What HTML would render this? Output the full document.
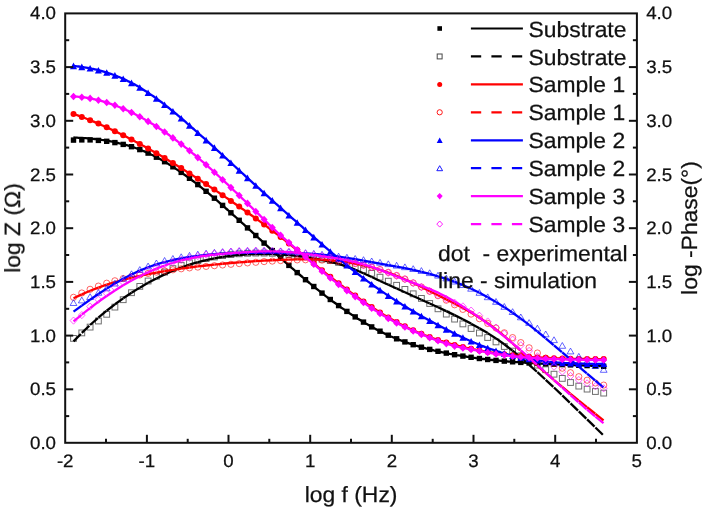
<!DOCTYPE html>
<html><head><meta charset="utf-8"><style>
html,body{margin:0;padding:0;background:#fff;}
body{width:706px;height:512px;overflow:hidden;font-family:"Liberation Sans",sans-serif;}
svg{display:block;-webkit-font-smoothing:antialiased;}
text{text-rendering:geometricPrecision;}
#tx{opacity:0.999;}
</style></head><body>
<svg width="706" height="512" viewBox="0 0 706 512" font-family="Liberation Sans, sans-serif" fill="#111">
<style>text{stroke:#111;stroke-width:0.25px;}</style>
<rect width="706" height="512" fill="#fff"/>
<g id="lines"><rect x="70.8" y="137.4" width="5.4" height="5.4" fill="#000"/>
<rect x="79.1" y="137.2" width="5.4" height="5.4" fill="#000"/>
<rect x="87.4" y="137.2" width="5.4" height="5.4" fill="#000"/>
<rect x="95.7" y="137.7" width="5.4" height="5.4" fill="#000"/>
<rect x="104.0" y="138.6" width="5.4" height="5.4" fill="#000"/>
<rect x="112.2" y="139.9" width="5.4" height="5.4" fill="#000"/>
<rect x="120.5" y="141.7" width="5.4" height="5.4" fill="#000"/>
<rect x="128.8" y="144.0" width="5.4" height="5.4" fill="#000"/>
<rect x="137.1" y="146.9" width="5.4" height="5.4" fill="#000"/>
<rect x="145.4" y="150.4" width="5.4" height="5.4" fill="#000"/>
<rect x="153.7" y="154.5" width="5.4" height="5.4" fill="#000"/>
<rect x="161.9" y="159.0" width="5.4" height="5.4" fill="#000"/>
<rect x="170.2" y="164.1" width="5.4" height="5.4" fill="#000"/>
<rect x="178.5" y="169.7" width="5.4" height="5.4" fill="#000"/>
<rect x="186.8" y="175.6" width="5.4" height="5.4" fill="#000"/>
<rect x="195.1" y="181.9" width="5.4" height="5.4" fill="#000"/>
<rect x="203.4" y="188.6" width="5.4" height="5.4" fill="#000"/>
<rect x="211.7" y="195.5" width="5.4" height="5.4" fill="#000"/>
<rect x="219.9" y="202.7" width="5.4" height="5.4" fill="#000"/>
<rect x="228.2" y="210.1" width="5.4" height="5.4" fill="#000"/>
<rect x="236.5" y="217.6" width="5.4" height="5.4" fill="#000"/>
<rect x="244.8" y="225.2" width="5.4" height="5.4" fill="#000"/>
<rect x="253.1" y="232.8" width="5.4" height="5.4" fill="#000"/>
<rect x="261.4" y="240.4" width="5.4" height="5.4" fill="#000"/>
<rect x="269.6" y="247.9" width="5.4" height="5.4" fill="#000"/>
<rect x="277.9" y="255.4" width="5.4" height="5.4" fill="#000"/>
<rect x="286.2" y="262.7" width="5.4" height="5.4" fill="#000"/>
<rect x="294.5" y="269.9" width="5.4" height="5.4" fill="#000"/>
<rect x="302.8" y="277.0" width="5.4" height="5.4" fill="#000"/>
<rect x="311.1" y="283.8" width="5.4" height="5.4" fill="#000"/>
<rect x="319.3" y="290.4" width="5.4" height="5.4" fill="#000"/>
<rect x="327.6" y="296.8" width="5.4" height="5.4" fill="#000"/>
<rect x="335.9" y="302.9" width="5.4" height="5.4" fill="#000"/>
<rect x="344.2" y="308.7" width="5.4" height="5.4" fill="#000"/>
<rect x="352.5" y="314.2" width="5.4" height="5.4" fill="#000"/>
<rect x="360.8" y="319.4" width="5.4" height="5.4" fill="#000"/>
<rect x="369.0" y="324.2" width="5.4" height="5.4" fill="#000"/>
<rect x="377.3" y="328.5" width="5.4" height="5.4" fill="#000"/>
<rect x="385.6" y="332.5" width="5.4" height="5.4" fill="#000"/>
<rect x="393.9" y="336.1" width="5.4" height="5.4" fill="#000"/>
<rect x="402.2" y="339.2" width="5.4" height="5.4" fill="#000"/>
<rect x="410.5" y="342.0" width="5.4" height="5.4" fill="#000"/>
<rect x="418.7" y="344.5" width="5.4" height="5.4" fill="#000"/>
<rect x="427.0" y="346.7" width="5.4" height="5.4" fill="#000"/>
<rect x="435.3" y="348.6" width="5.4" height="5.4" fill="#000"/>
<rect x="443.6" y="350.4" width="5.4" height="5.4" fill="#000"/>
<rect x="451.9" y="352.0" width="5.4" height="5.4" fill="#000"/>
<rect x="460.2" y="353.4" width="5.4" height="5.4" fill="#000"/>
<rect x="468.4" y="354.6" width="5.4" height="5.4" fill="#000"/>
<rect x="476.7" y="355.8" width="5.4" height="5.4" fill="#000"/>
<rect x="485.0" y="356.8" width="5.4" height="5.4" fill="#000"/>
<rect x="493.3" y="357.7" width="5.4" height="5.4" fill="#000"/>
<rect x="501.6" y="358.4" width="5.4" height="5.4" fill="#000"/>
<rect x="509.9" y="359.1" width="5.4" height="5.4" fill="#000"/>
<rect x="518.1" y="359.7" width="5.4" height="5.4" fill="#000"/>
<rect x="526.4" y="360.3" width="5.4" height="5.4" fill="#000"/>
<rect x="534.7" y="360.7" width="5.4" height="5.4" fill="#000"/>
<rect x="543.0" y="361.2" width="5.4" height="5.4" fill="#000"/>
<rect x="551.3" y="361.5" width="5.4" height="5.4" fill="#000"/>
<rect x="559.6" y="361.9" width="5.4" height="5.4" fill="#000"/>
<rect x="567.8" y="362.2" width="5.4" height="5.4" fill="#000"/>
<rect x="576.1" y="362.6" width="5.4" height="5.4" fill="#000"/>
<rect x="584.4" y="362.9" width="5.4" height="5.4" fill="#000"/>
<rect x="592.7" y="363.2" width="5.4" height="5.4" fill="#000"/>
<rect x="601.0" y="363.6" width="5.4" height="5.4" fill="#000"/>
<path d="M73.4,137.5L75.1,137.6L76.9,137.7L78.7,137.8L80.5,137.9L82.2,138.0L84.0,138.1L85.8,138.2L87.6,138.3L89.3,138.5L91.1,138.6L92.9,138.8L94.7,139.0L96.4,139.2L98.2,139.4L100.0,139.6L101.8,139.9L103.5,140.1L105.3,140.4L107.1,140.7L108.9,141.0L110.6,141.3L112.4,141.7L114.2,142.1L116.0,142.4L117.7,142.8L119.5,143.3L121.3,143.7L123.1,144.2L124.8,144.6L126.6,145.1L128.4,145.7L130.2,146.2L131.9,146.8L133.7,147.4L135.5,148.0L137.3,148.6L139.0,149.3L140.8,150.0L142.6,150.7L144.4,151.4L146.1,152.2L147.9,153.0L149.7,153.8L151.5,154.7L153.3,155.5L155.0,156.4L156.8,157.4L158.6,158.3L160.4,159.3L162.1,160.3L163.9,161.3L165.7,162.3L167.5,163.4L169.2,164.5L171.0,165.6L172.8,166.7L174.6,167.9L176.3,169.1L178.1,170.3L179.9,171.5L181.7,172.7L183.4,174.0L185.2,175.2L187.0,176.5L188.8,177.8L190.5,179.1L192.3,180.5L194.1,181.8L195.9,183.2L197.6,184.6L199.4,186.0L201.2,187.4L203.0,188.8L204.7,190.3L206.5,191.7L208.3,193.2L210.1,194.7L211.8,196.2L213.6,197.7L215.4,199.2L217.2,200.7L218.9,202.2L220.7,203.8L222.5,205.3L224.3,206.9L226.0,208.5L227.8,210.0L229.6,211.6L231.4,213.2L233.1,214.8L234.9,216.4L236.7,218.0L238.5,219.6L240.2,221.2L242.0,222.8L243.8,224.4L245.6,226.1L247.3,227.7L249.1,229.3L250.9,230.9L252.7,232.6L254.4,234.2L256.2,235.8L258.0,237.5L259.8,239.1L261.5,240.7L263.3,242.3L265.1,244.0L266.9,245.6L268.6,247.2L270.4,248.8L272.2,250.4L274.0,252.0L275.7,253.6L277.5,255.2L279.3,256.8L281.1,258.4L282.8,260.0L284.6,261.6L286.4,263.2L288.2,264.7L289.9,266.3L291.7,267.9L293.5,269.4L295.3,271.0L297.0,272.5L298.8,274.0L300.6,275.5L302.4,277.0L304.1,278.5L305.9,280.0L307.7,281.5L309.5,283.0L311.2,284.5L313.0,285.9L314.8,287.4L316.6,288.8L318.3,290.2L320.1,291.6L321.9,293.0L323.7,294.4L325.4,295.8L327.2,297.2L329.0,298.5L330.8,299.9L332.5,301.2L334.3,302.5L336.1,303.8L337.9,305.1L339.6,306.4L341.4,307.7L343.2,308.9L345.0,310.1L346.7,311.4L348.5,312.6L350.3,313.8L352.1,314.9L353.9,316.1L355.6,317.2L357.4,318.4L359.2,319.5L361.0,320.6L362.7,321.7L364.5,322.7L366.3,323.8L368.1,324.8L369.8,325.8L371.6,326.8L373.4,327.8L375.2,328.7L376.9,329.7L378.7,330.6L380.5,331.5L382.3,332.4L384.0,333.2L385.8,334.1L387.6,334.9L389.4,335.7L391.1,336.5L392.9,337.2L394.7,338.0L396.5,338.7L398.2,339.4L400.0,340.1L401.8,340.8L403.6,341.4L405.3,342.1L407.1,342.7L408.9,343.3L410.7,343.9L412.4,344.5L414.2,345.0L416.0,345.6L417.8,346.1L419.5,346.6L421.3,347.1L423.1,347.6L424.9,348.1L426.6,348.6L428.4,349.0L430.2,349.5L432.0,349.9L433.7,350.4L435.5,350.8L437.3,351.2L439.1,351.6L440.8,352.0L442.6,352.3L444.4,352.7L446.2,353.1L447.9,353.4L449.7,353.8L451.5,354.1L453.3,354.4L455.0,354.7L456.8,355.1L458.6,355.4L460.4,355.7L462.1,356.0L463.9,356.2L465.7,356.5L467.5,356.8L469.2,357.1L471.0,357.3L472.8,357.6L474.6,357.8L476.3,358.1L478.1,358.3L479.9,358.5L481.7,358.8L483.4,359.0L485.2,359.2L487.0,359.4L488.8,359.6L490.5,359.8L492.3,360.0L494.1,360.2L495.9,360.4L497.6,360.5L499.4,360.7L501.2,360.9L503.0,361.0L504.7,361.2L506.5,361.3L508.3,361.5L510.1,361.6L511.8,361.8L513.6,361.9L515.4,362.1L517.2,362.2L518.9,362.3L520.7,362.4L522.5,362.6L524.3,362.7L526.0,362.8L527.8,362.9L529.6,363.0L531.4,363.1L533.1,363.2L534.9,363.3L536.7,363.4L538.5,363.5L540.2,363.6L542.0,363.7L543.8,363.8L545.6,363.9L547.3,364.0L549.1,364.0L550.9,364.1L552.7,364.2L554.4,364.3L556.2,364.4L558.0,364.4L559.8,364.5L561.6,364.6L563.3,364.6L565.1,364.7L566.9,364.8L568.7,364.9L570.4,364.9L572.2,365.0L574.0,365.1L575.8,365.1L577.5,365.2L579.3,365.3L581.1,365.4L582.9,365.4L584.6,365.5L586.4,365.6L588.2,365.6L590.0,365.7L591.7,365.8L593.5,365.9L595.3,365.9L597.1,366.0L598.8,366.1L600.6,366.2L602.4,366.2L604.2,366.3" fill="none" stroke="#000" stroke-width="2.3" stroke-linejoin="round"/>
<rect x="70.6" y="335.5" width="5.8" height="5.8" fill="none" stroke="#222" stroke-width="1" stroke-opacity="0.65"/>
<rect x="78.9" y="330.0" width="5.8" height="5.8" fill="none" stroke="#222" stroke-width="1" stroke-opacity="0.65"/>
<rect x="87.2" y="324.2" width="5.8" height="5.8" fill="none" stroke="#222" stroke-width="1" stroke-opacity="0.65"/>
<rect x="95.5" y="318.1" width="5.8" height="5.8" fill="none" stroke="#222" stroke-width="1" stroke-opacity="0.65"/>
<rect x="103.8" y="311.4" width="5.8" height="5.8" fill="none" stroke="#222" stroke-width="1" stroke-opacity="0.65"/>
<rect x="112.0" y="304.2" width="5.8" height="5.8" fill="none" stroke="#222" stroke-width="1" stroke-opacity="0.65"/>
<rect x="120.3" y="296.8" width="5.8" height="5.8" fill="none" stroke="#222" stroke-width="1" stroke-opacity="0.65"/>
<rect x="128.6" y="289.8" width="5.8" height="5.8" fill="none" stroke="#222" stroke-width="1" stroke-opacity="0.65"/>
<rect x="136.9" y="283.5" width="5.8" height="5.8" fill="none" stroke="#222" stroke-width="1" stroke-opacity="0.65"/>
<rect x="145.2" y="278.1" width="5.8" height="5.8" fill="none" stroke="#222" stroke-width="1" stroke-opacity="0.65"/>
<rect x="153.5" y="273.3" width="5.8" height="5.8" fill="none" stroke="#222" stroke-width="1" stroke-opacity="0.65"/>
<rect x="161.7" y="269.2" width="5.8" height="5.8" fill="none" stroke="#222" stroke-width="1" stroke-opacity="0.65"/>
<rect x="170.0" y="265.7" width="5.8" height="5.8" fill="none" stroke="#222" stroke-width="1" stroke-opacity="0.65"/>
<rect x="178.3" y="262.6" width="5.8" height="5.8" fill="none" stroke="#222" stroke-width="1" stroke-opacity="0.65"/>
<rect x="186.6" y="260.0" width="5.8" height="5.8" fill="none" stroke="#222" stroke-width="1" stroke-opacity="0.65"/>
<rect x="194.9" y="257.7" width="5.8" height="5.8" fill="none" stroke="#222" stroke-width="1" stroke-opacity="0.65"/>
<rect x="203.2" y="255.7" width="5.8" height="5.8" fill="none" stroke="#222" stroke-width="1" stroke-opacity="0.65"/>
<rect x="211.5" y="254.1" width="5.8" height="5.8" fill="none" stroke="#222" stroke-width="1" stroke-opacity="0.65"/>
<rect x="219.7" y="252.7" width="5.8" height="5.8" fill="none" stroke="#222" stroke-width="1" stroke-opacity="0.65"/>
<rect x="228.0" y="251.7" width="5.8" height="5.8" fill="none" stroke="#222" stroke-width="1" stroke-opacity="0.65"/>
<rect x="236.3" y="250.9" width="5.8" height="5.8" fill="none" stroke="#222" stroke-width="1" stroke-opacity="0.65"/>
<rect x="244.6" y="250.4" width="5.8" height="5.8" fill="none" stroke="#222" stroke-width="1" stroke-opacity="0.65"/>
<rect x="252.9" y="250.2" width="5.8" height="5.8" fill="none" stroke="#222" stroke-width="1" stroke-opacity="0.65"/>
<rect x="261.2" y="250.2" width="5.8" height="5.8" fill="none" stroke="#222" stroke-width="1" stroke-opacity="0.65"/>
<rect x="269.4" y="250.4" width="5.8" height="5.8" fill="none" stroke="#222" stroke-width="1" stroke-opacity="0.65"/>
<rect x="277.7" y="250.9" width="5.8" height="5.8" fill="none" stroke="#222" stroke-width="1" stroke-opacity="0.65"/>
<rect x="286.0" y="251.6" width="5.8" height="5.8" fill="none" stroke="#222" stroke-width="1" stroke-opacity="0.65"/>
<rect x="294.3" y="252.4" width="5.8" height="5.8" fill="none" stroke="#222" stroke-width="1" stroke-opacity="0.65"/>
<rect x="302.6" y="253.5" width="5.8" height="5.8" fill="none" stroke="#222" stroke-width="1" stroke-opacity="0.65"/>
<rect x="310.9" y="254.7" width="5.8" height="5.8" fill="none" stroke="#222" stroke-width="1" stroke-opacity="0.65"/>
<rect x="319.1" y="256.2" width="5.8" height="5.8" fill="none" stroke="#222" stroke-width="1" stroke-opacity="0.65"/>
<rect x="327.4" y="257.7" width="5.8" height="5.8" fill="none" stroke="#222" stroke-width="1" stroke-opacity="0.65"/>
<rect x="335.7" y="259.5" width="5.8" height="5.8" fill="none" stroke="#222" stroke-width="1" stroke-opacity="0.65"/>
<rect x="344.0" y="261.5" width="5.8" height="5.8" fill="none" stroke="#222" stroke-width="1" stroke-opacity="0.65"/>
<rect x="352.3" y="264.0" width="5.8" height="5.8" fill="none" stroke="#222" stroke-width="1" stroke-opacity="0.65"/>
<rect x="360.6" y="266.9" width="5.8" height="5.8" fill="none" stroke="#222" stroke-width="1" stroke-opacity="0.65"/>
<rect x="368.8" y="270.4" width="5.8" height="5.8" fill="none" stroke="#222" stroke-width="1" stroke-opacity="0.65"/>
<rect x="377.1" y="274.3" width="5.8" height="5.8" fill="none" stroke="#222" stroke-width="1" stroke-opacity="0.65"/>
<rect x="385.4" y="278.3" width="5.8" height="5.8" fill="none" stroke="#222" stroke-width="1" stroke-opacity="0.65"/>
<rect x="393.7" y="282.4" width="5.8" height="5.8" fill="none" stroke="#222" stroke-width="1" stroke-opacity="0.65"/>
<rect x="402.0" y="286.5" width="5.8" height="5.8" fill="none" stroke="#222" stroke-width="1" stroke-opacity="0.65"/>
<rect x="410.3" y="290.9" width="5.8" height="5.8" fill="none" stroke="#222" stroke-width="1" stroke-opacity="0.65"/>
<rect x="418.5" y="295.5" width="5.8" height="5.8" fill="none" stroke="#222" stroke-width="1" stroke-opacity="0.65"/>
<rect x="426.8" y="300.6" width="5.8" height="5.8" fill="none" stroke="#222" stroke-width="1" stroke-opacity="0.65"/>
<rect x="435.1" y="305.9" width="5.8" height="5.8" fill="none" stroke="#222" stroke-width="1" stroke-opacity="0.65"/>
<rect x="443.4" y="311.2" width="5.8" height="5.8" fill="none" stroke="#222" stroke-width="1" stroke-opacity="0.65"/>
<rect x="451.7" y="316.2" width="5.8" height="5.8" fill="none" stroke="#222" stroke-width="1" stroke-opacity="0.65"/>
<rect x="460.0" y="321.0" width="5.8" height="5.8" fill="none" stroke="#222" stroke-width="1" stroke-opacity="0.65"/>
<rect x="468.2" y="325.6" width="5.8" height="5.8" fill="none" stroke="#222" stroke-width="1" stroke-opacity="0.65"/>
<rect x="476.5" y="330.1" width="5.8" height="5.8" fill="none" stroke="#222" stroke-width="1" stroke-opacity="0.65"/>
<rect x="484.8" y="334.6" width="5.8" height="5.8" fill="none" stroke="#222" stroke-width="1" stroke-opacity="0.65"/>
<rect x="493.1" y="339.0" width="5.8" height="5.8" fill="none" stroke="#222" stroke-width="1" stroke-opacity="0.65"/>
<rect x="501.4" y="343.6" width="5.8" height="5.8" fill="none" stroke="#222" stroke-width="1" stroke-opacity="0.65"/>
<rect x="509.7" y="348.2" width="5.8" height="5.8" fill="none" stroke="#222" stroke-width="1" stroke-opacity="0.65"/>
<rect x="517.9" y="352.9" width="5.8" height="5.8" fill="none" stroke="#222" stroke-width="1" stroke-opacity="0.65"/>
<rect x="526.2" y="357.6" width="5.8" height="5.8" fill="none" stroke="#222" stroke-width="1" stroke-opacity="0.65"/>
<rect x="534.5" y="362.2" width="5.8" height="5.8" fill="none" stroke="#222" stroke-width="1" stroke-opacity="0.65"/>
<rect x="542.8" y="366.8" width="5.8" height="5.8" fill="none" stroke="#222" stroke-width="1" stroke-opacity="0.65"/>
<rect x="551.1" y="371.3" width="5.8" height="5.8" fill="none" stroke="#222" stroke-width="1" stroke-opacity="0.65"/>
<rect x="559.4" y="375.5" width="5.8" height="5.8" fill="none" stroke="#222" stroke-width="1" stroke-opacity="0.65"/>
<rect x="567.6" y="379.6" width="5.8" height="5.8" fill="none" stroke="#222" stroke-width="1" stroke-opacity="0.65"/>
<rect x="575.9" y="383.2" width="5.8" height="5.8" fill="none" stroke="#222" stroke-width="1" stroke-opacity="0.65"/>
<rect x="584.2" y="386.2" width="5.8" height="5.8" fill="none" stroke="#222" stroke-width="1" stroke-opacity="0.65"/>
<rect x="592.5" y="388.6" width="5.8" height="5.8" fill="none" stroke="#222" stroke-width="1" stroke-opacity="0.65"/>
<rect x="600.8" y="390.2" width="5.8" height="5.8" fill="none" stroke="#222" stroke-width="1" stroke-opacity="0.65"/>
<path d="M73.53,341.38L81.81,332.91" fill="none" stroke="#000" stroke-width="2.3" stroke-dasharray="10.4,20"/>
<path d="M81.81,332.91L90.10,325.00" fill="none" stroke="#000" stroke-width="2.3" stroke-dasharray="10.4,20"/>
<path d="M90.10,325.00L98.38,317.61" fill="none" stroke="#000" stroke-width="2.3" stroke-dasharray="10.4,20"/>
<path d="M98.38,317.61L106.66,310.72" fill="none" stroke="#000" stroke-width="2.3" stroke-dasharray="10.4,20"/>
<path d="M106.66,310.72L114.95,304.30" fill="none" stroke="#000" stroke-width="2.3" stroke-dasharray="10.4,20"/>
<path d="M114.95,304.30L123.23,298.33" fill="none" stroke="#000" stroke-width="2.3" stroke-dasharray="10.4,20"/>
<path d="M123.23,298.33L131.51,292.78" fill="none" stroke="#000" stroke-width="2.3" stroke-dasharray="10.4,20"/>
<path d="M131.51,292.78L139.80,287.63" fill="none" stroke="#000" stroke-width="2.3" stroke-dasharray="10.4,20"/>
<path d="M139.80,287.63L148.08,282.85" fill="none" stroke="#000" stroke-width="2.3" stroke-dasharray="10.4,20"/>
<path d="M148.08,282.85L156.37,278.44" fill="none" stroke="#000" stroke-width="2.3" stroke-dasharray="10.4,20"/>
<path d="M156.37,278.44L164.65,274.40" fill="none" stroke="#000" stroke-width="2.3" stroke-dasharray="10.4,20"/>
<path d="M164.65,274.40L172.93,270.75" fill="none" stroke="#000" stroke-width="2.3" stroke-dasharray="10.4,20"/>
<path d="M172.93,270.75L181.22,267.49" fill="none" stroke="#000" stroke-width="2.3" stroke-dasharray="10.4,20"/>
<path d="M181.22,267.49L189.50,264.63" fill="none" stroke="#000" stroke-width="2.3" stroke-dasharray="10.4,20"/>
<path d="M189.50,264.63L197.78,262.17" fill="none" stroke="#000" stroke-width="2.3" stroke-dasharray="10.4,20"/>
<path d="M197.78,262.17L206.07,260.07" fill="none" stroke="#000" stroke-width="2.3" stroke-dasharray="10.4,20"/>
<path d="M206.07,260.07L214.35,258.33" fill="none" stroke="#000" stroke-width="2.3" stroke-dasharray="10.4,20"/>
<path d="M214.35,258.33L222.63,256.91" fill="none" stroke="#000" stroke-width="2.3" stroke-dasharray="10.4,20"/>
<path d="M222.63,256.91L230.92,255.80" fill="none" stroke="#000" stroke-width="2.3" stroke-dasharray="10.4,20"/>
<path d="M230.92,255.80L239.20,254.98" fill="none" stroke="#000" stroke-width="2.3" stroke-dasharray="10.4,20"/>
<path d="M239.20,254.98L247.48,254.42" fill="none" stroke="#000" stroke-width="2.3" stroke-dasharray="10.4,20"/>
<path d="M247.48,254.42L255.77,254.10" fill="none" stroke="#000" stroke-width="2.3" stroke-dasharray="10.4,20"/>
<path d="M255.77,254.10L264.05,254.01" fill="none" stroke="#000" stroke-width="2.3" stroke-dasharray="10.4,20"/>
<path d="M264.05,254.01L272.34,254.14" fill="none" stroke="#000" stroke-width="2.3" stroke-dasharray="10.4,20"/>
<path d="M272.34,254.14L280.62,254.50" fill="none" stroke="#000" stroke-width="2.3" stroke-dasharray="10.4,20"/>
<path d="M280.62,254.50L288.90,255.09" fill="none" stroke="#000" stroke-width="2.3" stroke-dasharray="10.4,20"/>
<path d="M288.90,255.09L297.19,255.92" fill="none" stroke="#000" stroke-width="2.3" stroke-dasharray="10.4,20"/>
<path d="M297.19,255.92L305.47,257.01" fill="none" stroke="#000" stroke-width="2.3" stroke-dasharray="10.4,20"/>
<path d="M305.47,257.01L313.75,258.34" fill="none" stroke="#000" stroke-width="2.3" stroke-dasharray="10.4,20"/>
<path d="M313.75,258.34L322.04,259.93" fill="none" stroke="#000" stroke-width="2.3" stroke-dasharray="10.4,20"/>
<path d="M322.04,259.93L330.32,261.79" fill="none" stroke="#000" stroke-width="2.3" stroke-dasharray="10.4,20"/>
<path d="M330.32,261.79L338.60,263.97" fill="none" stroke="#000" stroke-width="2.3" stroke-dasharray="10.4,20"/>
<path d="M338.60,263.97L346.89,266.57" fill="none" stroke="#000" stroke-width="2.3" stroke-dasharray="10.4,20"/>
<path d="M346.89,266.57L355.17,269.69" fill="none" stroke="#000" stroke-width="2.3" stroke-dasharray="10.4,20"/>
<path d="M355.17,269.69L363.45,273.25" fill="none" stroke="#000" stroke-width="2.3" stroke-dasharray="10.4,20"/>
<path d="M363.45,273.25L371.74,277.07" fill="none" stroke="#000" stroke-width="2.3" stroke-dasharray="10.4,20"/>
<path d="M371.74,277.07L380.02,280.94" fill="none" stroke="#000" stroke-width="2.3" stroke-dasharray="10.4,20"/>
<path d="M380.02,280.94L388.31,284.78" fill="none" stroke="#000" stroke-width="2.3" stroke-dasharray="10.4,20"/>
<path d="M388.31,284.78L396.59,288.57" fill="none" stroke="#000" stroke-width="2.3" stroke-dasharray="10.4,20"/>
<path d="M396.59,288.57L404.87,292.32" fill="none" stroke="#000" stroke-width="2.3" stroke-dasharray="10.4,20"/>
<path d="M404.87,292.32L413.16,296.03" fill="none" stroke="#000" stroke-width="2.3" stroke-dasharray="10.4,20"/>
<path d="M413.16,296.03L421.44,299.74" fill="none" stroke="#000" stroke-width="2.3" stroke-dasharray="10.4,20"/>
<path d="M421.44,299.74L429.72,303.47" fill="none" stroke="#000" stroke-width="2.3" stroke-dasharray="10.4,20"/>
<path d="M429.72,303.47L438.01,307.26" fill="none" stroke="#000" stroke-width="2.3" stroke-dasharray="10.4,20"/>
<path d="M438.01,307.26L446.29,311.14" fill="none" stroke="#000" stroke-width="2.3" stroke-dasharray="10.4,20"/>
<path d="M446.29,311.14L454.57,315.14" fill="none" stroke="#000" stroke-width="2.3" stroke-dasharray="10.4,20"/>
<path d="M454.57,315.14L462.86,319.30" fill="none" stroke="#000" stroke-width="2.3" stroke-dasharray="10.4,20"/>
<path d="M462.86,319.30L471.14,323.64" fill="none" stroke="#000" stroke-width="2.3" stroke-dasharray="10.4,20"/>
<path d="M471.14,323.64L479.43,328.21" fill="none" stroke="#000" stroke-width="2.3" stroke-dasharray="10.4,20"/>
<path d="M479.43,328.21L487.71,333.11" fill="none" stroke="#000" stroke-width="2.3" stroke-dasharray="10.4,20"/>
<path d="M487.71,333.11L495.99,338.43" fill="none" stroke="#000" stroke-width="2.3" stroke-dasharray="10.4,20"/>
<path d="M495.99,338.43L504.28,344.28" fill="none" stroke="#000" stroke-width="2.3" stroke-dasharray="10.4,20"/>
<path d="M504.28,344.28L512.56,350.72" fill="none" stroke="#000" stroke-width="2.3" stroke-dasharray="10.4,20"/>
<path d="M512.56,350.72L520.84,357.62" fill="none" stroke="#000" stroke-width="2.3" stroke-dasharray="10.4,20"/>
<path d="M520.84,357.62L529.13,364.82" fill="none" stroke="#000" stroke-width="2.3" stroke-dasharray="10.4,20"/>
<path d="M529.13,364.82L537.41,372.22" fill="none" stroke="#000" stroke-width="2.3" stroke-dasharray="10.4,20"/>
<path d="M537.41,372.22L545.69,379.80" fill="none" stroke="#000" stroke-width="2.3" stroke-dasharray="10.4,20"/>
<path d="M545.69,379.80L553.98,387.53" fill="none" stroke="#000" stroke-width="2.3" stroke-dasharray="10.4,20"/>
<path d="M553.98,387.53L562.26,395.39" fill="none" stroke="#000" stroke-width="2.3" stroke-dasharray="10.4,20"/>
<path d="M562.26,395.39L570.54,403.35" fill="none" stroke="#000" stroke-width="2.3" stroke-dasharray="10.4,20"/>
<path d="M570.54,403.35L578.83,411.37" fill="none" stroke="#000" stroke-width="2.3" stroke-dasharray="10.4,20"/>
<path d="M578.83,411.37L587.11,419.43" fill="none" stroke="#000" stroke-width="2.3" stroke-dasharray="10.4,20"/>
<path d="M587.11,419.43L595.40,427.50" fill="none" stroke="#000" stroke-width="2.3" stroke-dasharray="10.4,20"/>
<path d="M595.40,427.50L603.68,435.56" fill="none" stroke="#000" stroke-width="2.3" stroke-dasharray="10.4,20"/>
<circle cx="73.5" cy="113.9" r="3.0" fill="#ff0000"/>
<circle cx="81.8" cy="116.9" r="3.0" fill="#ff0000"/>
<circle cx="90.1" cy="120.2" r="3.0" fill="#ff0000"/>
<circle cx="98.4" cy="123.6" r="3.0" fill="#ff0000"/>
<circle cx="106.7" cy="127.3" r="3.0" fill="#ff0000"/>
<circle cx="114.9" cy="131.2" r="3.0" fill="#ff0000"/>
<circle cx="123.2" cy="135.2" r="3.0" fill="#ff0000"/>
<circle cx="131.5" cy="139.5" r="3.0" fill="#ff0000"/>
<circle cx="139.8" cy="143.9" r="3.0" fill="#ff0000"/>
<circle cx="148.1" cy="148.5" r="3.0" fill="#ff0000"/>
<circle cx="156.4" cy="153.2" r="3.0" fill="#ff0000"/>
<circle cx="164.6" cy="158.0" r="3.0" fill="#ff0000"/>
<circle cx="172.9" cy="163.0" r="3.0" fill="#ff0000"/>
<circle cx="181.2" cy="168.1" r="3.0" fill="#ff0000"/>
<circle cx="189.5" cy="173.4" r="3.0" fill="#ff0000"/>
<circle cx="197.8" cy="178.7" r="3.0" fill="#ff0000"/>
<circle cx="206.1" cy="184.1" r="3.0" fill="#ff0000"/>
<circle cx="214.4" cy="189.6" r="3.0" fill="#ff0000"/>
<circle cx="222.6" cy="195.2" r="3.0" fill="#ff0000"/>
<circle cx="230.9" cy="200.9" r="3.0" fill="#ff0000"/>
<circle cx="239.2" cy="206.6" r="3.0" fill="#ff0000"/>
<circle cx="247.5" cy="212.5" r="3.0" fill="#ff0000"/>
<circle cx="255.8" cy="218.4" r="3.0" fill="#ff0000"/>
<circle cx="264.1" cy="224.5" r="3.0" fill="#ff0000"/>
<circle cx="272.3" cy="230.7" r="3.0" fill="#ff0000"/>
<circle cx="280.6" cy="237.0" r="3.0" fill="#ff0000"/>
<circle cx="288.9" cy="243.5" r="3.0" fill="#ff0000"/>
<circle cx="297.2" cy="250.1" r="3.0" fill="#ff0000"/>
<circle cx="305.5" cy="256.8" r="3.0" fill="#ff0000"/>
<circle cx="313.8" cy="263.5" r="3.0" fill="#ff0000"/>
<circle cx="322.0" cy="270.2" r="3.0" fill="#ff0000"/>
<circle cx="330.3" cy="276.8" r="3.0" fill="#ff0000"/>
<circle cx="338.6" cy="283.3" r="3.0" fill="#ff0000"/>
<circle cx="346.9" cy="289.5" r="3.0" fill="#ff0000"/>
<circle cx="355.2" cy="295.6" r="3.0" fill="#ff0000"/>
<circle cx="363.5" cy="301.5" r="3.0" fill="#ff0000"/>
<circle cx="371.7" cy="307.1" r="3.0" fill="#ff0000"/>
<circle cx="380.0" cy="312.4" r="3.0" fill="#ff0000"/>
<circle cx="388.3" cy="317.4" r="3.0" fill="#ff0000"/>
<circle cx="396.6" cy="322.0" r="3.0" fill="#ff0000"/>
<circle cx="404.9" cy="326.3" r="3.0" fill="#ff0000"/>
<circle cx="413.2" cy="330.3" r="3.0" fill="#ff0000"/>
<circle cx="421.4" cy="333.8" r="3.0" fill="#ff0000"/>
<circle cx="429.7" cy="337.1" r="3.0" fill="#ff0000"/>
<circle cx="438.0" cy="339.9" r="3.0" fill="#ff0000"/>
<circle cx="446.3" cy="342.5" r="3.0" fill="#ff0000"/>
<circle cx="454.6" cy="344.9" r="3.0" fill="#ff0000"/>
<circle cx="462.9" cy="346.9" r="3.0" fill="#ff0000"/>
<circle cx="471.1" cy="348.8" r="3.0" fill="#ff0000"/>
<circle cx="479.4" cy="350.4" r="3.0" fill="#ff0000"/>
<circle cx="487.7" cy="351.9" r="3.0" fill="#ff0000"/>
<circle cx="496.0" cy="353.2" r="3.0" fill="#ff0000"/>
<circle cx="504.3" cy="354.3" r="3.0" fill="#ff0000"/>
<circle cx="512.6" cy="355.2" r="3.0" fill="#ff0000"/>
<circle cx="520.8" cy="356.1" r="3.0" fill="#ff0000"/>
<circle cx="529.1" cy="356.8" r="3.0" fill="#ff0000"/>
<circle cx="537.4" cy="357.4" r="3.0" fill="#ff0000"/>
<circle cx="545.7" cy="357.8" r="3.0" fill="#ff0000"/>
<circle cx="554.0" cy="358.2" r="3.0" fill="#ff0000"/>
<circle cx="562.3" cy="358.5" r="3.0" fill="#ff0000"/>
<circle cx="570.5" cy="358.7" r="3.0" fill="#ff0000"/>
<circle cx="578.8" cy="358.9" r="3.0" fill="#ff0000"/>
<circle cx="587.1" cy="359.0" r="3.0" fill="#ff0000"/>
<circle cx="595.4" cy="359.1" r="3.0" fill="#ff0000"/>
<circle cx="603.7" cy="359.1" r="3.0" fill="#ff0000"/>
<path d="M73.5,113.9L75.3,114.5L77.1,115.2L78.9,115.8L80.6,116.5L82.4,117.1L84.2,117.8L86.0,118.5L87.7,119.2L89.5,119.9L91.3,120.6L93.1,121.4L94.8,122.1L96.6,122.9L98.4,123.6L100.1,124.4L101.9,125.2L103.7,126.0L105.5,126.8L107.2,127.6L109.0,128.4L110.8,129.2L112.6,130.1L114.3,130.9L116.1,131.7L117.9,132.6L119.7,133.5L121.4,134.4L123.2,135.2L125.0,136.1L126.8,137.0L128.5,137.9L130.3,138.9L132.1,139.8L133.9,140.7L135.6,141.7L137.4,142.6L139.2,143.6L141.0,144.5L142.7,145.5L144.5,146.5L146.3,147.5L148.1,148.4L149.8,149.4L151.6,150.5L153.4,151.5L155.2,152.5L156.9,153.5L158.7,154.5L160.5,155.6L162.3,156.6L164.0,157.7L165.8,158.7L167.6,159.8L169.4,160.9L171.1,161.9L172.9,163.0L174.7,164.1L176.5,165.2L178.2,166.3L180.0,167.4L181.8,168.5L183.6,169.6L185.3,170.7L187.1,171.9L188.9,173.0L190.7,174.1L192.4,175.2L194.2,176.4L196.0,177.5L197.8,178.7L199.5,179.8L201.3,181.0L203.1,182.2L204.9,183.3L206.6,184.5L208.4,185.7L210.2,186.9L212.0,188.0L213.7,189.2L215.5,190.4L217.3,191.6L219.1,192.8L220.8,194.0L222.6,195.2L224.4,196.4L226.2,197.6L227.9,198.8L229.7,200.1L231.5,201.3L233.2,202.5L235.0,203.7L236.8,205.0L238.6,206.2L240.3,207.4L242.1,208.7L243.9,209.9L245.7,211.2L247.4,212.5L249.2,213.7L251.0,215.0L252.8,216.3L254.5,217.5L256.3,218.8L258.1,220.1L259.9,221.4L261.6,222.7L263.4,224.0L265.2,225.3L267.0,226.7L268.7,228.0L270.5,229.3L272.3,230.7L274.1,232.0L275.8,233.3L277.6,234.7L279.4,236.1L281.2,237.4L282.9,238.8L284.7,240.2L286.5,241.6L288.3,243.0L290.0,244.4L291.8,245.8L293.6,247.3L295.4,248.7L297.1,250.1L298.9,251.5L300.7,253.0L302.5,254.4L304.2,255.8L306.0,257.3L307.8,258.7L309.6,260.1L311.3,261.6L313.1,263.0L314.9,264.4L316.7,265.9L318.4,267.3L320.2,268.7L322.0,270.1L323.8,271.6L325.5,273.0L327.3,274.4L329.1,275.8L330.9,277.2L332.6,278.6L334.4,280.0L336.2,281.4L338.0,282.8L339.7,284.1L341.5,285.5L343.3,286.8L345.1,288.2L346.8,289.5L348.6,290.8L350.4,292.1L352.2,293.4L353.9,294.7L355.7,296.0L357.5,297.3L359.3,298.5L361.0,299.8L362.8,301.0L364.6,302.2L366.4,303.5L368.1,304.7L369.9,305.8L371.7,307.0L373.4,308.2L375.2,309.3L377.0,310.5L378.8,311.6L380.5,312.7L382.3,313.8L384.1,314.9L385.9,315.9L387.6,317.0L389.4,318.0L391.2,319.0L393.0,320.0L394.7,321.0L396.5,322.0L398.3,322.9L400.1,323.9L401.8,324.8L403.6,325.7L405.4,326.6L407.2,327.5L408.9,328.3L410.7,329.2L412.5,330.0L414.3,330.8L416.0,331.6L417.8,332.3L419.6,333.1L421.4,333.8L423.1,334.5L424.9,335.2L426.7,335.9L428.5,336.6L430.2,337.2L432.0,337.9L433.8,338.5L435.6,339.1L437.3,339.7L439.1,340.3L440.9,340.9L442.7,341.4L444.4,342.0L446.2,342.5L448.0,343.0L449.8,343.5L451.5,344.0L453.3,344.5L455.1,345.0L456.9,345.4L458.6,345.9L460.4,346.3L462.2,346.8L464.0,347.2L465.7,347.6L467.5,348.0L469.3,348.4L471.1,348.7L472.8,349.1L474.6,349.5L476.4,349.8L478.2,350.2L479.9,350.5L481.7,350.8L483.5,351.1L485.3,351.5L487.0,351.8L488.8,352.0L490.6,352.3L492.4,352.6L494.1,352.9L495.9,353.1L497.7,353.4L499.5,353.6L501.2,353.9L503.0,354.1L504.8,354.3L506.5,354.6L508.3,354.8L510.1,355.0L511.9,355.2L513.6,355.4L515.4,355.6L517.2,355.7L519.0,355.9L520.7,356.1L522.5,356.2L524.3,356.4L526.1,356.5L527.8,356.7L529.6,356.8L531.4,357.0L533.2,357.1L534.9,357.2L536.7,357.3L538.5,357.4L540.3,357.5L542.0,357.6L543.8,357.7L545.6,357.8L547.4,357.9L549.1,358.0L550.9,358.1L552.7,358.2L554.5,358.2L556.2,358.3L558.0,358.4L559.8,358.4L561.6,358.5L563.3,358.6L565.1,358.6L566.9,358.7L568.7,358.7L570.4,358.7L572.2,358.8L574.0,358.8L575.8,358.9L577.5,358.9L579.3,358.9L581.1,358.9L582.9,359.0L584.6,359.0L586.4,359.0L588.2,359.0L590.0,359.0L591.7,359.1L593.5,359.1L595.3,359.1L597.1,359.1L598.8,359.1L600.6,359.1L602.4,359.1L604.2,359.1" fill="none" stroke="#ff0000" stroke-width="2.3" stroke-linejoin="round"/>
<circle cx="73.5" cy="297.3" r="3.1" fill="none" stroke="#ff0000" stroke-width="1" stroke-opacity="0.60"/>
<circle cx="81.8" cy="293.0" r="3.1" fill="none" stroke="#ff0000" stroke-width="1" stroke-opacity="0.60"/>
<circle cx="90.1" cy="289.3" r="3.1" fill="none" stroke="#ff0000" stroke-width="1" stroke-opacity="0.60"/>
<circle cx="98.4" cy="286.1" r="3.1" fill="none" stroke="#ff0000" stroke-width="1" stroke-opacity="0.60"/>
<circle cx="106.7" cy="283.2" r="3.1" fill="none" stroke="#ff0000" stroke-width="1" stroke-opacity="0.60"/>
<circle cx="114.9" cy="280.8" r="3.1" fill="none" stroke="#ff0000" stroke-width="1" stroke-opacity="0.60"/>
<circle cx="123.2" cy="278.6" r="3.1" fill="none" stroke="#ff0000" stroke-width="1" stroke-opacity="0.60"/>
<circle cx="131.5" cy="276.7" r="3.1" fill="none" stroke="#ff0000" stroke-width="1" stroke-opacity="0.60"/>
<circle cx="139.8" cy="275.0" r="3.1" fill="none" stroke="#ff0000" stroke-width="1" stroke-opacity="0.60"/>
<circle cx="148.1" cy="273.4" r="3.1" fill="none" stroke="#ff0000" stroke-width="1" stroke-opacity="0.60"/>
<circle cx="156.4" cy="272.1" r="3.1" fill="none" stroke="#ff0000" stroke-width="1" stroke-opacity="0.60"/>
<circle cx="164.6" cy="270.9" r="3.1" fill="none" stroke="#ff0000" stroke-width="1" stroke-opacity="0.60"/>
<circle cx="172.9" cy="269.8" r="3.1" fill="none" stroke="#ff0000" stroke-width="1" stroke-opacity="0.60"/>
<circle cx="181.2" cy="268.8" r="3.1" fill="none" stroke="#ff0000" stroke-width="1" stroke-opacity="0.60"/>
<circle cx="189.5" cy="267.9" r="3.1" fill="none" stroke="#ff0000" stroke-width="1" stroke-opacity="0.60"/>
<circle cx="197.8" cy="267.1" r="3.1" fill="none" stroke="#ff0000" stroke-width="1" stroke-opacity="0.60"/>
<circle cx="206.1" cy="266.4" r="3.1" fill="none" stroke="#ff0000" stroke-width="1" stroke-opacity="0.60"/>
<circle cx="214.4" cy="265.7" r="3.1" fill="none" stroke="#ff0000" stroke-width="1" stroke-opacity="0.60"/>
<circle cx="222.6" cy="265.0" r="3.1" fill="none" stroke="#ff0000" stroke-width="1" stroke-opacity="0.60"/>
<circle cx="230.9" cy="264.3" r="3.1" fill="none" stroke="#ff0000" stroke-width="1" stroke-opacity="0.60"/>
<circle cx="239.2" cy="263.6" r="3.1" fill="none" stroke="#ff0000" stroke-width="1" stroke-opacity="0.60"/>
<circle cx="247.5" cy="262.9" r="3.1" fill="none" stroke="#ff0000" stroke-width="1" stroke-opacity="0.60"/>
<circle cx="255.8" cy="262.3" r="3.1" fill="none" stroke="#ff0000" stroke-width="1" stroke-opacity="0.60"/>
<circle cx="264.1" cy="261.6" r="3.1" fill="none" stroke="#ff0000" stroke-width="1" stroke-opacity="0.60"/>
<circle cx="272.3" cy="261.1" r="3.1" fill="none" stroke="#ff0000" stroke-width="1" stroke-opacity="0.60"/>
<circle cx="280.6" cy="260.6" r="3.1" fill="none" stroke="#ff0000" stroke-width="1" stroke-opacity="0.60"/>
<circle cx="288.9" cy="260.2" r="3.1" fill="none" stroke="#ff0000" stroke-width="1" stroke-opacity="0.60"/>
<circle cx="297.2" cy="259.9" r="3.1" fill="none" stroke="#ff0000" stroke-width="1" stroke-opacity="0.60"/>
<circle cx="305.5" cy="259.8" r="3.1" fill="none" stroke="#ff0000" stroke-width="1" stroke-opacity="0.60"/>
<circle cx="313.8" cy="259.8" r="3.1" fill="none" stroke="#ff0000" stroke-width="1" stroke-opacity="0.60"/>
<circle cx="322.0" cy="260.1" r="3.1" fill="none" stroke="#ff0000" stroke-width="1" stroke-opacity="0.60"/>
<circle cx="330.3" cy="260.5" r="3.1" fill="none" stroke="#ff0000" stroke-width="1" stroke-opacity="0.60"/>
<circle cx="338.6" cy="261.3" r="3.1" fill="none" stroke="#ff0000" stroke-width="1" stroke-opacity="0.60"/>
<circle cx="346.9" cy="262.3" r="3.1" fill="none" stroke="#ff0000" stroke-width="1" stroke-opacity="0.60"/>
<circle cx="355.2" cy="263.6" r="3.1" fill="none" stroke="#ff0000" stroke-width="1" stroke-opacity="0.60"/>
<circle cx="363.5" cy="265.2" r="3.1" fill="none" stroke="#ff0000" stroke-width="1" stroke-opacity="0.60"/>
<circle cx="371.7" cy="267.2" r="3.1" fill="none" stroke="#ff0000" stroke-width="1" stroke-opacity="0.60"/>
<circle cx="380.0" cy="269.5" r="3.1" fill="none" stroke="#ff0000" stroke-width="1" stroke-opacity="0.60"/>
<circle cx="388.3" cy="272.3" r="3.1" fill="none" stroke="#ff0000" stroke-width="1" stroke-opacity="0.60"/>
<circle cx="396.6" cy="275.5" r="3.1" fill="none" stroke="#ff0000" stroke-width="1" stroke-opacity="0.60"/>
<circle cx="404.9" cy="279.0" r="3.1" fill="none" stroke="#ff0000" stroke-width="1" stroke-opacity="0.60"/>
<circle cx="413.2" cy="282.9" r="3.1" fill="none" stroke="#ff0000" stroke-width="1" stroke-opacity="0.60"/>
<circle cx="421.4" cy="287.0" r="3.1" fill="none" stroke="#ff0000" stroke-width="1" stroke-opacity="0.60"/>
<circle cx="429.7" cy="291.3" r="3.1" fill="none" stroke="#ff0000" stroke-width="1" stroke-opacity="0.60"/>
<circle cx="438.0" cy="295.7" r="3.1" fill="none" stroke="#ff0000" stroke-width="1" stroke-opacity="0.60"/>
<circle cx="446.3" cy="300.2" r="3.1" fill="none" stroke="#ff0000" stroke-width="1" stroke-opacity="0.60"/>
<circle cx="454.6" cy="304.8" r="3.1" fill="none" stroke="#ff0000" stroke-width="1" stroke-opacity="0.60"/>
<circle cx="462.9" cy="309.4" r="3.1" fill="none" stroke="#ff0000" stroke-width="1" stroke-opacity="0.60"/>
<circle cx="471.1" cy="314.1" r="3.1" fill="none" stroke="#ff0000" stroke-width="1" stroke-opacity="0.60"/>
<circle cx="479.4" cy="318.7" r="3.1" fill="none" stroke="#ff0000" stroke-width="1" stroke-opacity="0.60"/>
<circle cx="487.7" cy="323.4" r="3.1" fill="none" stroke="#ff0000" stroke-width="1" stroke-opacity="0.60"/>
<circle cx="496.0" cy="328.0" r="3.1" fill="none" stroke="#ff0000" stroke-width="1" stroke-opacity="0.60"/>
<circle cx="504.3" cy="332.8" r="3.1" fill="none" stroke="#ff0000" stroke-width="1" stroke-opacity="0.60"/>
<circle cx="512.6" cy="337.6" r="3.1" fill="none" stroke="#ff0000" stroke-width="1" stroke-opacity="0.60"/>
<circle cx="520.8" cy="342.6" r="3.1" fill="none" stroke="#ff0000" stroke-width="1" stroke-opacity="0.60"/>
<circle cx="529.1" cy="347.8" r="3.1" fill="none" stroke="#ff0000" stroke-width="1" stroke-opacity="0.60"/>
<circle cx="537.4" cy="353.0" r="3.1" fill="none" stroke="#ff0000" stroke-width="1" stroke-opacity="0.60"/>
<circle cx="545.7" cy="358.2" r="3.1" fill="none" stroke="#ff0000" stroke-width="1" stroke-opacity="0.60"/>
<circle cx="554.0" cy="363.3" r="3.1" fill="none" stroke="#ff0000" stroke-width="1" stroke-opacity="0.60"/>
<circle cx="562.3" cy="368.2" r="3.1" fill="none" stroke="#ff0000" stroke-width="1" stroke-opacity="0.60"/>
<circle cx="570.5" cy="372.7" r="3.1" fill="none" stroke="#ff0000" stroke-width="1" stroke-opacity="0.60"/>
<circle cx="578.8" cy="376.7" r="3.1" fill="none" stroke="#ff0000" stroke-width="1" stroke-opacity="0.60"/>
<circle cx="587.1" cy="380.2" r="3.1" fill="none" stroke="#ff0000" stroke-width="1" stroke-opacity="0.60"/>
<circle cx="595.4" cy="383.0" r="3.1" fill="none" stroke="#ff0000" stroke-width="1" stroke-opacity="0.60"/>
<circle cx="603.7" cy="385.1" r="3.1" fill="none" stroke="#ff0000" stroke-width="1" stroke-opacity="0.60"/>
<path d="M73.53,298.30L81.81,294.36" fill="none" stroke="#ff0000" stroke-width="2.3" stroke-dasharray="10.4,20"/>
<path d="M81.81,294.36L90.10,290.80" fill="none" stroke="#ff0000" stroke-width="2.3" stroke-dasharray="10.4,20"/>
<path d="M90.10,290.80L98.38,287.59" fill="none" stroke="#ff0000" stroke-width="2.3" stroke-dasharray="10.4,20"/>
<path d="M98.38,287.59L106.66,284.70" fill="none" stroke="#ff0000" stroke-width="2.3" stroke-dasharray="10.4,20"/>
<path d="M106.66,284.70L114.95,282.10" fill="none" stroke="#ff0000" stroke-width="2.3" stroke-dasharray="10.4,20"/>
<path d="M114.95,282.10L123.23,279.78" fill="none" stroke="#ff0000" stroke-width="2.3" stroke-dasharray="10.4,20"/>
<path d="M123.23,279.78L131.51,277.69" fill="none" stroke="#ff0000" stroke-width="2.3" stroke-dasharray="10.4,20"/>
<path d="M131.51,277.69L139.80,275.81" fill="none" stroke="#ff0000" stroke-width="2.3" stroke-dasharray="10.4,20"/>
<path d="M139.80,275.81L148.08,274.11" fill="none" stroke="#ff0000" stroke-width="2.3" stroke-dasharray="10.4,20"/>
<path d="M148.08,274.11L156.37,272.58" fill="none" stroke="#ff0000" stroke-width="2.3" stroke-dasharray="10.4,20"/>
<path d="M156.37,272.58L164.65,271.17" fill="none" stroke="#ff0000" stroke-width="2.3" stroke-dasharray="10.4,20"/>
<path d="M164.65,271.17L172.93,269.86" fill="none" stroke="#ff0000" stroke-width="2.3" stroke-dasharray="10.4,20"/>
<path d="M172.93,269.86L181.22,268.64" fill="none" stroke="#ff0000" stroke-width="2.3" stroke-dasharray="10.4,20"/>
<path d="M181.22,268.64L189.50,267.51" fill="none" stroke="#ff0000" stroke-width="2.3" stroke-dasharray="10.4,20"/>
<path d="M189.50,267.51L197.78,266.46" fill="none" stroke="#ff0000" stroke-width="2.3" stroke-dasharray="10.4,20"/>
<path d="M197.78,266.46L206.07,265.49" fill="none" stroke="#ff0000" stroke-width="2.3" stroke-dasharray="10.4,20"/>
<path d="M206.07,265.49L214.35,264.59" fill="none" stroke="#ff0000" stroke-width="2.3" stroke-dasharray="10.4,20"/>
<path d="M214.35,264.59L222.63,263.77" fill="none" stroke="#ff0000" stroke-width="2.3" stroke-dasharray="10.4,20"/>
<path d="M222.63,263.77L230.92,263.02" fill="none" stroke="#ff0000" stroke-width="2.3" stroke-dasharray="10.4,20"/>
<path d="M230.92,263.02L239.20,262.34" fill="none" stroke="#ff0000" stroke-width="2.3" stroke-dasharray="10.4,20"/>
<path d="M239.20,262.34L247.48,261.73" fill="none" stroke="#ff0000" stroke-width="2.3" stroke-dasharray="10.4,20"/>
<path d="M247.48,261.73L255.77,261.18" fill="none" stroke="#ff0000" stroke-width="2.3" stroke-dasharray="10.4,20"/>
<path d="M255.77,261.18L264.05,260.69" fill="none" stroke="#ff0000" stroke-width="2.3" stroke-dasharray="10.4,20"/>
<path d="M264.05,260.69L272.34,260.26" fill="none" stroke="#ff0000" stroke-width="2.3" stroke-dasharray="10.4,20"/>
<path d="M272.34,260.26L280.62,259.89" fill="none" stroke="#ff0000" stroke-width="2.3" stroke-dasharray="10.4,20"/>
<path d="M280.62,259.89L288.90,259.58" fill="none" stroke="#ff0000" stroke-width="2.3" stroke-dasharray="10.4,20"/>
<path d="M288.90,259.58L297.19,259.38" fill="none" stroke="#ff0000" stroke-width="2.3" stroke-dasharray="10.4,20"/>
<path d="M297.19,259.38L305.47,259.31" fill="none" stroke="#ff0000" stroke-width="2.3" stroke-dasharray="10.4,20"/>
<path d="M305.47,259.31L313.75,259.40" fill="none" stroke="#ff0000" stroke-width="2.3" stroke-dasharray="10.4,20"/>
<path d="M313.75,259.40L322.04,259.70" fill="none" stroke="#ff0000" stroke-width="2.3" stroke-dasharray="10.4,20"/>
<path d="M322.04,259.70L330.32,260.24" fill="none" stroke="#ff0000" stroke-width="2.3" stroke-dasharray="10.4,20"/>
<path d="M330.32,260.24L338.60,261.05" fill="none" stroke="#ff0000" stroke-width="2.3" stroke-dasharray="10.4,20"/>
<path d="M338.60,261.05L346.89,262.16" fill="none" stroke="#ff0000" stroke-width="2.3" stroke-dasharray="10.4,20"/>
<path d="M346.89,262.16L355.17,263.59" fill="none" stroke="#ff0000" stroke-width="2.3" stroke-dasharray="10.4,20"/>
<path d="M355.17,263.59L363.45,265.35" fill="none" stroke="#ff0000" stroke-width="2.3" stroke-dasharray="10.4,20"/>
<path d="M363.45,265.35L371.74,267.44" fill="none" stroke="#ff0000" stroke-width="2.3" stroke-dasharray="10.4,20"/>
<path d="M371.74,267.44L380.02,269.87" fill="none" stroke="#ff0000" stroke-width="2.3" stroke-dasharray="10.4,20"/>
<path d="M380.02,269.87L388.31,272.65" fill="none" stroke="#ff0000" stroke-width="2.3" stroke-dasharray="10.4,20"/>
<path d="M388.31,272.65L396.59,275.76" fill="none" stroke="#ff0000" stroke-width="2.3" stroke-dasharray="10.4,20"/>
<path d="M396.59,275.76L404.87,279.23" fill="none" stroke="#ff0000" stroke-width="2.3" stroke-dasharray="10.4,20"/>
<path d="M404.87,279.23L413.16,283.03" fill="none" stroke="#ff0000" stroke-width="2.3" stroke-dasharray="10.4,20"/>
<path d="M413.16,283.03L421.44,287.06" fill="none" stroke="#ff0000" stroke-width="2.3" stroke-dasharray="10.4,20"/>
<path d="M421.44,287.06L429.72,291.19" fill="none" stroke="#ff0000" stroke-width="2.3" stroke-dasharray="10.4,20"/>
<path d="M429.72,291.19L438.01,295.29" fill="none" stroke="#ff0000" stroke-width="2.3" stroke-dasharray="10.4,20"/>
<path d="M438.01,295.29L446.29,299.39" fill="none" stroke="#ff0000" stroke-width="2.3" stroke-dasharray="10.4,20"/>
<path d="M446.29,299.39L454.57,303.58" fill="none" stroke="#ff0000" stroke-width="2.3" stroke-dasharray="10.4,20"/>
<path d="M454.57,303.58L462.86,307.95" fill="none" stroke="#ff0000" stroke-width="2.3" stroke-dasharray="10.4,20"/>
<path d="M462.86,307.95L471.14,312.60" fill="none" stroke="#ff0000" stroke-width="2.3" stroke-dasharray="10.4,20"/>
<path d="M471.14,312.60L479.43,317.65" fill="none" stroke="#ff0000" stroke-width="2.3" stroke-dasharray="10.4,20"/>
<path d="M479.43,317.65L487.71,323.17" fill="none" stroke="#ff0000" stroke-width="2.3" stroke-dasharray="10.4,20"/>
<path d="M487.71,323.17L495.99,329.28" fill="none" stroke="#ff0000" stroke-width="2.3" stroke-dasharray="10.4,20"/>
<path d="M495.99,329.28L504.28,336.07" fill="none" stroke="#ff0000" stroke-width="2.3" stroke-dasharray="10.4,20"/>
<path d="M504.28,336.07L512.56,343.48" fill="none" stroke="#ff0000" stroke-width="2.3" stroke-dasharray="10.4,20"/>
<path d="M512.56,343.48L520.84,351.08" fill="none" stroke="#ff0000" stroke-width="2.3" stroke-dasharray="10.4,20"/>
<path d="M520.84,351.08L529.13,358.54" fill="none" stroke="#ff0000" stroke-width="2.3" stroke-dasharray="10.4,20"/>
<path d="M529.13,358.54L537.41,365.83" fill="none" stroke="#ff0000" stroke-width="2.3" stroke-dasharray="10.4,20"/>
<path d="M537.41,365.83L545.69,372.99" fill="none" stroke="#ff0000" stroke-width="2.3" stroke-dasharray="10.4,20"/>
<path d="M545.69,372.99L553.98,380.04" fill="none" stroke="#ff0000" stroke-width="2.3" stroke-dasharray="10.4,20"/>
<path d="M553.98,380.04L562.26,386.98" fill="none" stroke="#ff0000" stroke-width="2.3" stroke-dasharray="10.4,20"/>
<path d="M562.26,386.98L570.54,393.83" fill="none" stroke="#ff0000" stroke-width="2.3" stroke-dasharray="10.4,20"/>
<path d="M570.54,393.83L578.83,400.59" fill="none" stroke="#ff0000" stroke-width="2.3" stroke-dasharray="10.4,20"/>
<path d="M578.83,400.59L587.11,407.27" fill="none" stroke="#ff0000" stroke-width="2.3" stroke-dasharray="10.4,20"/>
<path d="M587.11,407.27L595.40,413.88" fill="none" stroke="#ff0000" stroke-width="2.3" stroke-dasharray="10.4,20"/>
<path d="M595.40,413.88L603.68,420.42" fill="none" stroke="#ff0000" stroke-width="2.3" stroke-dasharray="10.4,20"/>
<path d="M73.5,62.6L77.0,69.2L70.0,69.2Z" fill="#0000ff"/>
<path d="M81.8,63.6L85.3,70.2L78.3,70.2Z" fill="#0000ff"/>
<path d="M90.1,65.0L93.6,71.6L86.6,71.6Z" fill="#0000ff"/>
<path d="M98.4,66.9L101.9,73.5L94.9,73.5Z" fill="#0000ff"/>
<path d="M106.7,69.2L110.2,75.8L103.2,75.8Z" fill="#0000ff"/>
<path d="M114.9,72.1L118.4,78.7L111.4,78.7Z" fill="#0000ff"/>
<path d="M123.2,75.5L126.7,82.1L119.7,82.1Z" fill="#0000ff"/>
<path d="M131.5,79.6L135.0,86.2L128.0,86.2Z" fill="#0000ff"/>
<path d="M139.8,84.2L143.3,90.8L136.3,90.8Z" fill="#0000ff"/>
<path d="M148.1,89.4L151.6,96.0L144.6,96.0Z" fill="#0000ff"/>
<path d="M156.4,95.2L159.9,101.8L152.9,101.8Z" fill="#0000ff"/>
<path d="M164.6,101.4L168.1,108.0L161.1,108.0Z" fill="#0000ff"/>
<path d="M172.9,108.0L176.4,114.6L169.4,114.6Z" fill="#0000ff"/>
<path d="M181.2,114.9L184.7,121.5L177.7,121.5Z" fill="#0000ff"/>
<path d="M189.5,122.1L193.0,128.7L186.0,128.7Z" fill="#0000ff"/>
<path d="M197.8,129.4L201.3,136.0L194.3,136.0Z" fill="#0000ff"/>
<path d="M206.1,136.8L209.6,143.4L202.6,143.4Z" fill="#0000ff"/>
<path d="M214.4,144.3L217.9,150.9L210.9,150.9Z" fill="#0000ff"/>
<path d="M222.6,151.9L226.1,158.5L219.1,158.5Z" fill="#0000ff"/>
<path d="M230.9,159.5L234.4,166.1L227.4,166.1Z" fill="#0000ff"/>
<path d="M239.2,167.1L242.7,173.7L235.7,173.7Z" fill="#0000ff"/>
<path d="M247.5,174.6L251.0,181.2L244.0,181.2Z" fill="#0000ff"/>
<path d="M255.8,182.2L259.3,188.8L252.3,188.8Z" fill="#0000ff"/>
<path d="M264.1,189.7L267.6,196.3L260.6,196.3Z" fill="#0000ff"/>
<path d="M272.3,197.1L275.8,203.7L268.8,203.7Z" fill="#0000ff"/>
<path d="M280.6,204.6L284.1,211.2L277.1,211.2Z" fill="#0000ff"/>
<path d="M288.9,211.9L292.4,218.5L285.4,218.5Z" fill="#0000ff"/>
<path d="M297.2,219.2L300.7,225.8L293.7,225.8Z" fill="#0000ff"/>
<path d="M305.5,226.5L309.0,233.1L302.0,233.1Z" fill="#0000ff"/>
<path d="M313.8,233.8L317.3,240.4L310.3,240.4Z" fill="#0000ff"/>
<path d="M322.0,241.0L325.5,247.6L318.5,247.6Z" fill="#0000ff"/>
<path d="M330.3,248.2L333.8,254.8L326.8,254.8Z" fill="#0000ff"/>
<path d="M338.6,255.2L342.1,261.8L335.1,261.8Z" fill="#0000ff"/>
<path d="M346.9,262.0L350.4,268.6L343.4,268.6Z" fill="#0000ff"/>
<path d="M355.2,268.5L358.7,275.1L351.7,275.1Z" fill="#0000ff"/>
<path d="M363.5,274.9L367.0,281.5L360.0,281.5Z" fill="#0000ff"/>
<path d="M371.7,281.0L375.2,287.6L368.2,287.6Z" fill="#0000ff"/>
<path d="M380.0,286.8L383.5,293.4L376.5,293.4Z" fill="#0000ff"/>
<path d="M388.3,292.4L391.8,299.0L384.8,299.0Z" fill="#0000ff"/>
<path d="M396.6,297.8L400.1,304.4L393.1,304.4Z" fill="#0000ff"/>
<path d="M404.9,302.9L408.4,309.5L401.4,309.5Z" fill="#0000ff"/>
<path d="M413.2,307.9L416.7,314.5L409.7,314.5Z" fill="#0000ff"/>
<path d="M421.4,312.7L424.9,319.3L417.9,319.3Z" fill="#0000ff"/>
<path d="M429.7,317.3L433.2,323.9L426.2,323.9Z" fill="#0000ff"/>
<path d="M438.0,321.7L441.5,328.3L434.5,328.3Z" fill="#0000ff"/>
<path d="M446.3,326.1L449.8,332.7L442.8,332.7Z" fill="#0000ff"/>
<path d="M454.6,330.2L458.1,336.8L451.1,336.8Z" fill="#0000ff"/>
<path d="M462.9,334.2L466.4,340.8L459.4,340.8Z" fill="#0000ff"/>
<path d="M471.1,338.0L474.6,344.6L467.6,344.6Z" fill="#0000ff"/>
<path d="M479.4,341.5L482.9,348.1L475.9,348.1Z" fill="#0000ff"/>
<path d="M487.7,344.7L491.2,351.3L484.2,351.3Z" fill="#0000ff"/>
<path d="M496.0,347.5L499.5,354.1L492.5,354.1Z" fill="#0000ff"/>
<path d="M504.3,350.1L507.8,356.7L500.8,356.7Z" fill="#0000ff"/>
<path d="M512.6,352.3L516.1,358.9L509.1,358.9Z" fill="#0000ff"/>
<path d="M520.8,354.1L524.3,360.7L517.3,360.7Z" fill="#0000ff"/>
<path d="M529.1,355.7L532.6,362.3L525.6,362.3Z" fill="#0000ff"/>
<path d="M537.4,357.0L540.9,363.6L533.9,363.6Z" fill="#0000ff"/>
<path d="M545.7,358.1L549.2,364.7L542.2,364.7Z" fill="#0000ff"/>
<path d="M554.0,358.9L557.5,365.5L550.5,365.5Z" fill="#0000ff"/>
<path d="M562.3,359.6L565.8,366.2L558.8,366.2Z" fill="#0000ff"/>
<path d="M570.5,360.0L574.0,366.6L567.0,366.6Z" fill="#0000ff"/>
<path d="M578.8,360.3L582.3,366.9L575.3,366.9Z" fill="#0000ff"/>
<path d="M587.1,360.5L590.6,367.1L583.6,367.1Z" fill="#0000ff"/>
<path d="M595.4,360.5L598.9,367.1L591.9,367.1Z" fill="#0000ff"/>
<path d="M603.7,360.4L607.2,367.0L600.2,367.0Z" fill="#0000ff"/>
<path d="M73.5,65.9L75.3,66.1L77.1,66.3L78.9,66.5L80.6,66.8L82.4,67.0L84.2,67.3L86.0,67.6L87.7,67.9L89.5,68.2L91.3,68.6L93.1,68.9L94.8,69.3L96.6,69.7L98.4,70.2L100.1,70.6L101.9,71.1L103.7,71.6L105.5,72.1L107.2,72.7L109.0,73.3L110.8,73.9L112.6,74.5L114.3,75.2L116.1,75.8L117.9,76.6L119.7,77.3L121.4,78.0L123.2,78.8L125.0,79.6L126.8,80.5L128.5,81.4L130.3,82.2L132.1,83.2L133.9,84.1L135.6,85.1L137.4,86.1L139.2,87.1L141.0,88.2L142.7,89.3L144.5,90.4L146.3,91.5L148.1,92.7L149.8,93.9L151.6,95.1L153.4,96.3L155.2,97.6L156.9,98.9L158.7,100.2L160.5,101.5L162.3,102.8L164.0,104.2L165.8,105.6L167.6,107.0L169.4,108.4L171.1,109.8L172.9,111.3L174.7,112.7L176.5,114.2L178.2,115.7L180.0,117.2L181.8,118.7L183.6,120.2L185.3,121.7L187.1,123.3L188.9,124.8L190.7,126.4L192.4,128.0L194.2,129.5L196.0,131.1L197.8,132.7L199.5,134.3L201.3,135.9L203.1,137.4L204.9,139.0L206.6,140.6L208.4,142.2L210.2,143.8L212.0,145.5L213.7,147.1L215.5,148.7L217.3,150.3L219.1,151.9L220.8,153.5L222.6,155.2L224.4,156.8L226.2,158.4L227.9,160.0L229.7,161.7L231.5,163.3L233.2,164.9L235.0,166.5L236.8,168.2L238.6,169.8L240.3,171.4L242.1,173.0L243.9,174.7L245.7,176.3L247.4,177.9L249.2,179.5L251.0,181.2L252.8,182.8L254.5,184.4L256.3,186.0L258.1,187.6L259.9,189.2L261.6,190.8L263.4,192.4L265.2,194.0L267.0,195.6L268.7,197.2L270.5,198.8L272.3,200.4L274.1,202.0L275.8,203.6L277.6,205.2L279.4,206.8L281.2,208.3L282.9,209.9L284.7,211.5L286.5,213.1L288.3,214.7L290.0,216.2L291.8,217.8L293.6,219.4L295.4,220.9L297.1,222.5L298.9,224.1L300.7,225.6L302.5,227.2L304.2,228.8L306.0,230.3L307.8,231.9L309.6,233.4L311.3,235.0L313.1,236.5L314.9,238.1L316.7,239.6L318.4,241.2L320.2,242.7L322.0,244.3L323.8,245.8L325.5,247.3L327.3,248.9L329.1,250.4L330.9,251.9L332.6,253.4L334.4,254.9L336.2,256.4L338.0,257.9L339.7,259.4L341.5,260.9L343.3,262.3L345.1,263.8L346.8,265.2L348.6,266.7L350.4,268.1L352.2,269.5L353.9,270.9L355.7,272.3L357.5,273.6L359.3,275.0L361.0,276.3L362.8,277.7L364.6,279.0L366.4,280.3L368.1,281.6L369.9,282.9L371.7,284.2L373.4,285.5L375.2,286.8L377.0,288.0L378.8,289.2L380.5,290.5L382.3,291.7L384.1,292.9L385.9,294.1L387.6,295.3L389.4,296.4L391.2,297.6L393.0,298.8L394.7,299.9L396.5,301.0L398.3,302.1L400.1,303.3L401.8,304.4L403.6,305.5L405.4,306.5L407.2,307.6L408.9,308.7L410.7,309.7L412.5,310.8L414.3,311.8L416.0,312.9L417.8,313.9L419.6,314.9L421.4,315.9L423.1,316.9L424.9,317.9L426.7,318.9L428.5,319.9L430.2,320.8L432.0,321.8L433.8,322.8L435.6,323.7L437.3,324.7L439.1,325.6L440.9,326.6L442.7,327.5L444.4,328.4L446.2,329.3L448.0,330.2L449.8,331.1L451.5,332.0L453.3,332.9L455.1,333.8L456.9,334.7L458.6,335.5L460.4,336.4L462.2,337.2L464.0,338.0L465.7,338.9L467.5,339.7L469.3,340.5L471.1,341.2L472.8,342.0L474.6,342.8L476.4,343.5L478.2,344.2L479.9,345.0L481.7,345.7L483.5,346.4L485.3,347.1L487.0,347.7L488.8,348.4L490.6,349.0L492.4,349.6L494.1,350.2L495.9,350.8L497.7,351.4L499.5,351.9L501.2,352.5L503.0,353.0L504.8,353.5L506.5,354.0L508.3,354.5L510.1,354.9L511.9,355.4L513.6,355.8L515.4,356.3L517.2,356.7L519.0,357.0L520.7,357.4L522.5,357.8L524.3,358.1L526.1,358.5L527.8,358.8L529.6,359.1L531.4,359.4L533.2,359.7L534.9,360.0L536.7,360.2L538.5,360.5L540.3,360.7L542.0,361.0L543.8,361.2L545.6,361.4L547.4,361.6L549.1,361.8L550.9,362.0L552.7,362.1L554.5,362.3L556.2,362.4L558.0,362.6L559.8,362.7L561.6,362.8L563.3,362.9L565.1,363.1L566.9,363.2L568.7,363.2L570.4,363.3L572.2,363.4L574.0,363.5L575.8,363.5L577.5,363.6L579.3,363.6L581.1,363.7L582.9,363.7L584.6,363.7L586.4,363.8L588.2,363.8L590.0,363.8L591.7,363.8L593.5,363.8L595.3,363.8L597.1,363.8L598.8,363.8L600.6,363.8L602.4,363.7L604.2,363.7" fill="none" stroke="#0000ff" stroke-width="2.3" stroke-linejoin="round"/>
<path d="M73.5,299.7L76.9,305.5L70.1,305.5Z" fill="none" stroke="#0000ff" stroke-width="1" stroke-opacity="0.60"/>
<path d="M81.8,297.1L85.2,302.9L78.4,302.9Z" fill="none" stroke="#0000ff" stroke-width="1" stroke-opacity="0.60"/>
<path d="M90.1,293.7L93.5,299.5L86.7,299.5Z" fill="none" stroke="#0000ff" stroke-width="1" stroke-opacity="0.60"/>
<path d="M98.4,289.5L101.8,295.3L95.0,295.3Z" fill="none" stroke="#0000ff" stroke-width="1" stroke-opacity="0.60"/>
<path d="M106.7,285.0L110.1,290.8L103.3,290.8Z" fill="none" stroke="#0000ff" stroke-width="1" stroke-opacity="0.60"/>
<path d="M114.9,280.2L118.3,286.0L111.5,286.0Z" fill="none" stroke="#0000ff" stroke-width="1" stroke-opacity="0.60"/>
<path d="M123.2,275.4L126.6,281.2L119.8,281.2Z" fill="none" stroke="#0000ff" stroke-width="1" stroke-opacity="0.60"/>
<path d="M131.5,270.8L134.9,276.6L128.1,276.6Z" fill="none" stroke="#0000ff" stroke-width="1" stroke-opacity="0.60"/>
<path d="M139.8,266.6L143.2,272.4L136.4,272.4Z" fill="none" stroke="#0000ff" stroke-width="1" stroke-opacity="0.60"/>
<path d="M148.1,263.1L151.5,268.9L144.7,268.9Z" fill="none" stroke="#0000ff" stroke-width="1" stroke-opacity="0.60"/>
<path d="M156.4,260.0L159.8,265.8L153.0,265.8Z" fill="none" stroke="#0000ff" stroke-width="1" stroke-opacity="0.60"/>
<path d="M164.6,257.5L168.0,263.3L161.2,263.3Z" fill="none" stroke="#0000ff" stroke-width="1" stroke-opacity="0.60"/>
<path d="M172.9,255.5L176.3,261.3L169.5,261.3Z" fill="none" stroke="#0000ff" stroke-width="1" stroke-opacity="0.60"/>
<path d="M181.2,253.8L184.6,259.6L177.8,259.6Z" fill="none" stroke="#0000ff" stroke-width="1" stroke-opacity="0.60"/>
<path d="M189.5,252.4L192.9,258.2L186.1,258.2Z" fill="none" stroke="#0000ff" stroke-width="1" stroke-opacity="0.60"/>
<path d="M197.8,251.2L201.2,257.0L194.4,257.0Z" fill="none" stroke="#0000ff" stroke-width="1" stroke-opacity="0.60"/>
<path d="M206.1,250.2L209.5,256.0L202.7,256.0Z" fill="none" stroke="#0000ff" stroke-width="1" stroke-opacity="0.60"/>
<path d="M214.4,249.4L217.8,255.2L211.0,255.2Z" fill="none" stroke="#0000ff" stroke-width="1" stroke-opacity="0.60"/>
<path d="M222.6,248.7L226.0,254.5L219.2,254.5Z" fill="none" stroke="#0000ff" stroke-width="1" stroke-opacity="0.60"/>
<path d="M230.9,248.2L234.3,254.0L227.5,254.0Z" fill="none" stroke="#0000ff" stroke-width="1" stroke-opacity="0.60"/>
<path d="M239.2,247.8L242.6,253.6L235.8,253.6Z" fill="none" stroke="#0000ff" stroke-width="1" stroke-opacity="0.60"/>
<path d="M247.5,247.6L250.9,253.4L244.1,253.4Z" fill="none" stroke="#0000ff" stroke-width="1" stroke-opacity="0.60"/>
<path d="M255.8,247.5L259.2,253.3L252.4,253.3Z" fill="none" stroke="#0000ff" stroke-width="1" stroke-opacity="0.60"/>
<path d="M264.1,247.6L267.5,253.4L260.7,253.4Z" fill="none" stroke="#0000ff" stroke-width="1" stroke-opacity="0.60"/>
<path d="M272.3,247.8L275.7,253.6L268.9,253.6Z" fill="none" stroke="#0000ff" stroke-width="1" stroke-opacity="0.60"/>
<path d="M280.6,248.1L284.0,253.9L277.2,253.9Z" fill="none" stroke="#0000ff" stroke-width="1" stroke-opacity="0.60"/>
<path d="M288.9,248.5L292.3,254.3L285.5,254.3Z" fill="none" stroke="#0000ff" stroke-width="1" stroke-opacity="0.60"/>
<path d="M297.2,249.1L300.6,254.9L293.8,254.9Z" fill="none" stroke="#0000ff" stroke-width="1" stroke-opacity="0.60"/>
<path d="M305.5,249.7L308.9,255.5L302.1,255.5Z" fill="none" stroke="#0000ff" stroke-width="1" stroke-opacity="0.60"/>
<path d="M313.8,250.4L317.2,256.2L310.4,256.2Z" fill="none" stroke="#0000ff" stroke-width="1" stroke-opacity="0.60"/>
<path d="M322.0,251.3L325.4,257.1L318.6,257.1Z" fill="none" stroke="#0000ff" stroke-width="1" stroke-opacity="0.60"/>
<path d="M330.3,252.2L333.7,258.0L326.9,258.0Z" fill="none" stroke="#0000ff" stroke-width="1" stroke-opacity="0.60"/>
<path d="M338.6,253.2L342.0,259.0L335.2,259.0Z" fill="none" stroke="#0000ff" stroke-width="1" stroke-opacity="0.60"/>
<path d="M346.9,254.3L350.3,260.1L343.5,260.1Z" fill="none" stroke="#0000ff" stroke-width="1" stroke-opacity="0.60"/>
<path d="M355.2,255.5L358.6,261.3L351.8,261.3Z" fill="none" stroke="#0000ff" stroke-width="1" stroke-opacity="0.60"/>
<path d="M363.5,256.7L366.9,262.5L360.1,262.5Z" fill="none" stroke="#0000ff" stroke-width="1" stroke-opacity="0.60"/>
<path d="M371.7,258.0L375.1,263.8L368.3,263.8Z" fill="none" stroke="#0000ff" stroke-width="1" stroke-opacity="0.60"/>
<path d="M380.0,259.4L383.4,265.2L376.6,265.2Z" fill="none" stroke="#0000ff" stroke-width="1" stroke-opacity="0.60"/>
<path d="M388.3,260.8L391.7,266.6L384.9,266.6Z" fill="none" stroke="#0000ff" stroke-width="1" stroke-opacity="0.60"/>
<path d="M396.6,262.3L400.0,268.1L393.2,268.1Z" fill="none" stroke="#0000ff" stroke-width="1" stroke-opacity="0.60"/>
<path d="M404.9,263.9L408.3,269.7L401.5,269.7Z" fill="none" stroke="#0000ff" stroke-width="1" stroke-opacity="0.60"/>
<path d="M413.2,265.7L416.6,271.5L409.8,271.5Z" fill="none" stroke="#0000ff" stroke-width="1" stroke-opacity="0.60"/>
<path d="M421.4,267.6L424.8,273.4L418.0,273.4Z" fill="none" stroke="#0000ff" stroke-width="1" stroke-opacity="0.60"/>
<path d="M429.7,269.8L433.1,275.6L426.3,275.6Z" fill="none" stroke="#0000ff" stroke-width="1" stroke-opacity="0.60"/>
<path d="M438.0,272.3L441.4,278.1L434.6,278.1Z" fill="none" stroke="#0000ff" stroke-width="1" stroke-opacity="0.60"/>
<path d="M446.3,275.1L449.7,280.9L442.9,280.9Z" fill="none" stroke="#0000ff" stroke-width="1" stroke-opacity="0.60"/>
<path d="M454.6,278.2L458.0,284.0L451.2,284.0Z" fill="none" stroke="#0000ff" stroke-width="1" stroke-opacity="0.60"/>
<path d="M462.9,281.7L466.3,287.5L459.5,287.5Z" fill="none" stroke="#0000ff" stroke-width="1" stroke-opacity="0.60"/>
<path d="M471.1,285.4L474.5,291.2L467.7,291.2Z" fill="none" stroke="#0000ff" stroke-width="1" stroke-opacity="0.60"/>
<path d="M479.4,289.5L482.8,295.3L476.0,295.3Z" fill="none" stroke="#0000ff" stroke-width="1" stroke-opacity="0.60"/>
<path d="M487.7,293.9L491.1,299.7L484.3,299.7Z" fill="none" stroke="#0000ff" stroke-width="1" stroke-opacity="0.60"/>
<path d="M496.0,298.5L499.4,304.3L492.6,304.3Z" fill="none" stroke="#0000ff" stroke-width="1" stroke-opacity="0.60"/>
<path d="M504.3,303.5L507.7,309.3L500.9,309.3Z" fill="none" stroke="#0000ff" stroke-width="1" stroke-opacity="0.60"/>
<path d="M512.6,308.7L516.0,314.5L509.2,314.5Z" fill="none" stroke="#0000ff" stroke-width="1" stroke-opacity="0.60"/>
<path d="M520.8,314.0L524.2,319.8L517.4,319.8Z" fill="none" stroke="#0000ff" stroke-width="1" stroke-opacity="0.60"/>
<path d="M529.1,319.6L532.5,325.4L525.7,325.4Z" fill="none" stroke="#0000ff" stroke-width="1" stroke-opacity="0.60"/>
<path d="M537.4,325.2L540.8,331.0L534.0,331.0Z" fill="none" stroke="#0000ff" stroke-width="1" stroke-opacity="0.60"/>
<path d="M545.7,331.0L549.1,336.8L542.3,336.8Z" fill="none" stroke="#0000ff" stroke-width="1" stroke-opacity="0.60"/>
<path d="M554.0,336.8L557.4,342.6L550.6,342.6Z" fill="none" stroke="#0000ff" stroke-width="1" stroke-opacity="0.60"/>
<path d="M562.3,342.5L565.7,348.3L558.9,348.3Z" fill="none" stroke="#0000ff" stroke-width="1" stroke-opacity="0.60"/>
<path d="M570.5,348.1L573.9,353.9L567.1,353.9Z" fill="none" stroke="#0000ff" stroke-width="1" stroke-opacity="0.60"/>
<path d="M578.8,353.4L582.2,359.2L575.4,359.2Z" fill="none" stroke="#0000ff" stroke-width="1" stroke-opacity="0.60"/>
<path d="M587.1,358.3L590.5,364.1L583.7,364.1Z" fill="none" stroke="#0000ff" stroke-width="1" stroke-opacity="0.60"/>
<path d="M595.4,362.7L598.8,368.5L592.0,368.5Z" fill="none" stroke="#0000ff" stroke-width="1" stroke-opacity="0.60"/>
<path d="M603.7,366.5L607.1,372.3L600.3,372.3Z" fill="none" stroke="#0000ff" stroke-width="1" stroke-opacity="0.60"/>
<path d="M73.53,311.67L81.81,305.62" fill="none" stroke="#0000ff" stroke-width="2.3" stroke-dasharray="10.4,20"/>
<path d="M81.81,305.62L90.10,299.73" fill="none" stroke="#0000ff" stroke-width="2.3" stroke-dasharray="10.4,20"/>
<path d="M90.10,299.73L98.38,294.05" fill="none" stroke="#0000ff" stroke-width="2.3" stroke-dasharray="10.4,20"/>
<path d="M98.38,294.05L106.66,288.64" fill="none" stroke="#0000ff" stroke-width="2.3" stroke-dasharray="10.4,20"/>
<path d="M106.66,288.64L114.95,283.53" fill="none" stroke="#0000ff" stroke-width="2.3" stroke-dasharray="10.4,20"/>
<path d="M114.95,283.53L123.23,278.79" fill="none" stroke="#0000ff" stroke-width="2.3" stroke-dasharray="10.4,20"/>
<path d="M123.23,278.79L131.51,274.46" fill="none" stroke="#0000ff" stroke-width="2.3" stroke-dasharray="10.4,20"/>
<path d="M131.51,274.46L139.80,270.59" fill="none" stroke="#0000ff" stroke-width="2.3" stroke-dasharray="10.4,20"/>
<path d="M139.80,270.59L148.08,267.24" fill="none" stroke="#0000ff" stroke-width="2.3" stroke-dasharray="10.4,20"/>
<path d="M148.08,267.24L156.37,264.39" fill="none" stroke="#0000ff" stroke-width="2.3" stroke-dasharray="10.4,20"/>
<path d="M156.37,264.39L164.65,262.01" fill="none" stroke="#0000ff" stroke-width="2.3" stroke-dasharray="10.4,20"/>
<path d="M164.65,262.01L172.93,260.00" fill="none" stroke="#0000ff" stroke-width="2.3" stroke-dasharray="10.4,20"/>
<path d="M172.93,260.00L181.22,258.33" fill="none" stroke="#0000ff" stroke-width="2.3" stroke-dasharray="10.4,20"/>
<path d="M181.22,258.33L189.50,256.94" fill="none" stroke="#0000ff" stroke-width="2.3" stroke-dasharray="10.4,20"/>
<path d="M189.50,256.94L197.78,255.81" fill="none" stroke="#0000ff" stroke-width="2.3" stroke-dasharray="10.4,20"/>
<path d="M197.78,255.81L206.07,254.91" fill="none" stroke="#0000ff" stroke-width="2.3" stroke-dasharray="10.4,20"/>
<path d="M206.07,254.91L214.35,254.21" fill="none" stroke="#0000ff" stroke-width="2.3" stroke-dasharray="10.4,20"/>
<path d="M214.35,254.21L222.63,253.67" fill="none" stroke="#0000ff" stroke-width="2.3" stroke-dasharray="10.4,20"/>
<path d="M222.63,253.67L230.92,253.27" fill="none" stroke="#0000ff" stroke-width="2.3" stroke-dasharray="10.4,20"/>
<path d="M230.92,253.27L239.20,252.97" fill="none" stroke="#0000ff" stroke-width="2.3" stroke-dasharray="10.4,20"/>
<path d="M239.20,252.97L247.48,252.74" fill="none" stroke="#0000ff" stroke-width="2.3" stroke-dasharray="10.4,20"/>
<path d="M247.48,252.74L255.77,252.58" fill="none" stroke="#0000ff" stroke-width="2.3" stroke-dasharray="10.4,20"/>
<path d="M255.77,252.58L264.05,252.48" fill="none" stroke="#0000ff" stroke-width="2.3" stroke-dasharray="10.4,20"/>
<path d="M264.05,252.48L272.34,252.46" fill="none" stroke="#0000ff" stroke-width="2.3" stroke-dasharray="10.4,20"/>
<path d="M272.34,252.46L280.62,252.54" fill="none" stroke="#0000ff" stroke-width="2.3" stroke-dasharray="10.4,20"/>
<path d="M280.62,252.54L288.90,252.72" fill="none" stroke="#0000ff" stroke-width="2.3" stroke-dasharray="10.4,20"/>
<path d="M288.90,252.72L297.19,253.02" fill="none" stroke="#0000ff" stroke-width="2.3" stroke-dasharray="10.4,20"/>
<path d="M297.19,253.02L305.47,253.45" fill="none" stroke="#0000ff" stroke-width="2.3" stroke-dasharray="10.4,20"/>
<path d="M305.47,253.45L313.75,254.01" fill="none" stroke="#0000ff" stroke-width="2.3" stroke-dasharray="10.4,20"/>
<path d="M313.75,254.01L322.04,254.73" fill="none" stroke="#0000ff" stroke-width="2.3" stroke-dasharray="10.4,20"/>
<path d="M322.04,254.73L330.32,255.61" fill="none" stroke="#0000ff" stroke-width="2.3" stroke-dasharray="10.4,20"/>
<path d="M330.32,255.61L338.60,256.67" fill="none" stroke="#0000ff" stroke-width="2.3" stroke-dasharray="10.4,20"/>
<path d="M338.60,256.67L346.89,257.88" fill="none" stroke="#0000ff" stroke-width="2.3" stroke-dasharray="10.4,20"/>
<path d="M346.89,257.88L355.17,259.22" fill="none" stroke="#0000ff" stroke-width="2.3" stroke-dasharray="10.4,20"/>
<path d="M355.17,259.22L363.45,260.65" fill="none" stroke="#0000ff" stroke-width="2.3" stroke-dasharray="10.4,20"/>
<path d="M363.45,260.65L371.74,262.12" fill="none" stroke="#0000ff" stroke-width="2.3" stroke-dasharray="10.4,20"/>
<path d="M371.74,262.12L380.02,263.60" fill="none" stroke="#0000ff" stroke-width="2.3" stroke-dasharray="10.4,20"/>
<path d="M380.02,263.60L388.31,265.09" fill="none" stroke="#0000ff" stroke-width="2.3" stroke-dasharray="10.4,20"/>
<path d="M388.31,265.09L396.59,266.62" fill="none" stroke="#0000ff" stroke-width="2.3" stroke-dasharray="10.4,20"/>
<path d="M396.59,266.62L404.87,268.24" fill="none" stroke="#0000ff" stroke-width="2.3" stroke-dasharray="10.4,20"/>
<path d="M404.87,268.24L413.16,269.98" fill="none" stroke="#0000ff" stroke-width="2.3" stroke-dasharray="10.4,20"/>
<path d="M413.16,269.98L421.44,271.88" fill="none" stroke="#0000ff" stroke-width="2.3" stroke-dasharray="10.4,20"/>
<path d="M421.44,271.88L429.72,273.98" fill="none" stroke="#0000ff" stroke-width="2.3" stroke-dasharray="10.4,20"/>
<path d="M429.72,273.98L438.01,276.31" fill="none" stroke="#0000ff" stroke-width="2.3" stroke-dasharray="10.4,20"/>
<path d="M438.01,276.31L446.29,278.90" fill="none" stroke="#0000ff" stroke-width="2.3" stroke-dasharray="10.4,20"/>
<path d="M446.29,278.90L454.57,281.82" fill="none" stroke="#0000ff" stroke-width="2.3" stroke-dasharray="10.4,20"/>
<path d="M454.57,281.82L462.86,285.08" fill="none" stroke="#0000ff" stroke-width="2.3" stroke-dasharray="10.4,20"/>
<path d="M462.86,285.08L471.14,288.73" fill="none" stroke="#0000ff" stroke-width="2.3" stroke-dasharray="10.4,20"/>
<path d="M471.14,288.73L479.43,292.77" fill="none" stroke="#0000ff" stroke-width="2.3" stroke-dasharray="10.4,20"/>
<path d="M479.43,292.77L487.71,297.18" fill="none" stroke="#0000ff" stroke-width="2.3" stroke-dasharray="10.4,20"/>
<path d="M487.71,297.18L495.99,301.98" fill="none" stroke="#0000ff" stroke-width="2.3" stroke-dasharray="10.4,20"/>
<path d="M495.99,301.98L504.28,307.15" fill="none" stroke="#0000ff" stroke-width="2.3" stroke-dasharray="10.4,20"/>
<path d="M504.28,307.15L512.56,312.69" fill="none" stroke="#0000ff" stroke-width="2.3" stroke-dasharray="10.4,20"/>
<path d="M512.56,312.69L520.84,318.61" fill="none" stroke="#0000ff" stroke-width="2.3" stroke-dasharray="10.4,20"/>
<path d="M520.84,318.61L529.13,324.89" fill="none" stroke="#0000ff" stroke-width="2.3" stroke-dasharray="10.4,20"/>
<path d="M529.13,324.89L537.41,331.49" fill="none" stroke="#0000ff" stroke-width="2.3" stroke-dasharray="10.4,20"/>
<path d="M537.41,331.49L545.69,338.35" fill="none" stroke="#0000ff" stroke-width="2.3" stroke-dasharray="10.4,20"/>
<path d="M545.69,338.35L553.98,345.37" fill="none" stroke="#0000ff" stroke-width="2.3" stroke-dasharray="10.4,20"/>
<path d="M553.98,345.37L562.26,352.47" fill="none" stroke="#0000ff" stroke-width="2.3" stroke-dasharray="10.4,20"/>
<path d="M562.26,352.47L570.54,359.56" fill="none" stroke="#0000ff" stroke-width="2.3" stroke-dasharray="10.4,20"/>
<path d="M570.54,359.56L578.83,366.61" fill="none" stroke="#0000ff" stroke-width="2.3" stroke-dasharray="10.4,20"/>
<path d="M578.83,366.61L587.11,373.62" fill="none" stroke="#0000ff" stroke-width="2.3" stroke-dasharray="10.4,20"/>
<path d="M587.11,373.62L595.40,380.59" fill="none" stroke="#0000ff" stroke-width="2.3" stroke-dasharray="10.4,20"/>
<path d="M595.40,380.59L603.68,387.54" fill="none" stroke="#0000ff" stroke-width="2.3" stroke-dasharray="10.4,20"/>
<path d="M73.5,92.7L77.0,96.5L73.5,100.3L70.0,96.5Z" fill="#ff00ff"/>
<path d="M81.8,93.4L85.3,97.2L81.8,101.0L78.3,97.2Z" fill="#ff00ff"/>
<path d="M90.1,94.6L93.6,98.4L90.1,102.2L86.6,98.4Z" fill="#ff00ff"/>
<path d="M98.4,96.4L101.9,100.2L98.4,104.0L94.9,100.2Z" fill="#ff00ff"/>
<path d="M106.7,98.7L110.2,102.5L106.7,106.3L103.2,102.5Z" fill="#ff00ff"/>
<path d="M114.9,101.5L118.4,105.3L114.9,109.1L111.4,105.3Z" fill="#ff00ff"/>
<path d="M123.2,104.9L126.7,108.7L123.2,112.5L119.7,108.7Z" fill="#ff00ff"/>
<path d="M131.5,108.7L135.0,112.5L131.5,116.3L128.0,112.5Z" fill="#ff00ff"/>
<path d="M139.8,112.9L143.3,116.7L139.8,120.5L136.3,116.7Z" fill="#ff00ff"/>
<path d="M148.1,117.6L151.6,121.4L148.1,125.2L144.6,121.4Z" fill="#ff00ff"/>
<path d="M156.4,122.7L159.9,126.5L156.4,130.3L152.9,126.5Z" fill="#ff00ff"/>
<path d="M164.6,128.2L168.1,132.0L164.6,135.8L161.1,132.0Z" fill="#ff00ff"/>
<path d="M172.9,134.1L176.4,137.9L172.9,141.7L169.4,137.9Z" fill="#ff00ff"/>
<path d="M181.2,140.3L184.7,144.1L181.2,147.9L177.7,144.1Z" fill="#ff00ff"/>
<path d="M189.5,146.9L193.0,150.7L189.5,154.5L186.0,150.7Z" fill="#ff00ff"/>
<path d="M197.8,153.8L201.3,157.6L197.8,161.4L194.3,157.6Z" fill="#ff00ff"/>
<path d="M206.1,160.9L209.6,164.7L206.1,168.5L202.6,164.7Z" fill="#ff00ff"/>
<path d="M214.4,168.4L217.9,172.2L214.4,176.0L210.9,172.2Z" fill="#ff00ff"/>
<path d="M222.6,176.0L226.1,179.8L222.6,183.6L219.1,179.8Z" fill="#ff00ff"/>
<path d="M230.9,183.8L234.4,187.6L230.9,191.4L227.4,187.6Z" fill="#ff00ff"/>
<path d="M239.2,191.7L242.7,195.5L239.2,199.3L235.7,195.5Z" fill="#ff00ff"/>
<path d="M247.5,199.6L251.0,203.4L247.5,207.2L244.0,203.4Z" fill="#ff00ff"/>
<path d="M255.8,207.7L259.3,211.5L255.8,215.3L252.3,211.5Z" fill="#ff00ff"/>
<path d="M264.1,215.7L267.6,219.5L264.1,223.3L260.6,219.5Z" fill="#ff00ff"/>
<path d="M272.3,223.7L275.8,227.5L272.3,231.3L268.8,227.5Z" fill="#ff00ff"/>
<path d="M280.6,231.4L284.1,235.2L280.6,239.0L277.1,235.2Z" fill="#ff00ff"/>
<path d="M288.9,238.8L292.4,242.6L288.9,246.4L285.4,242.6Z" fill="#ff00ff"/>
<path d="M297.2,246.0L300.7,249.8L297.2,253.6L293.7,249.8Z" fill="#ff00ff"/>
<path d="M305.5,253.2L309.0,257.0L305.5,260.8L302.0,257.0Z" fill="#ff00ff"/>
<path d="M313.8,260.4L317.3,264.2L313.8,268.0L310.3,264.2Z" fill="#ff00ff"/>
<path d="M322.0,267.5L325.5,271.3L322.0,275.1L318.5,271.3Z" fill="#ff00ff"/>
<path d="M330.3,274.2L333.8,278.0L330.3,281.8L326.8,278.0Z" fill="#ff00ff"/>
<path d="M338.6,280.6L342.1,284.4L338.6,288.2L335.1,284.4Z" fill="#ff00ff"/>
<path d="M346.9,286.8L350.4,290.6L346.9,294.4L343.4,290.6Z" fill="#ff00ff"/>
<path d="M355.2,292.8L358.7,296.6L355.2,300.4L351.7,296.6Z" fill="#ff00ff"/>
<path d="M363.5,298.7L367.0,302.5L363.5,306.3L360.0,302.5Z" fill="#ff00ff"/>
<path d="M371.7,304.4L375.2,308.2L371.7,312.0L368.2,308.2Z" fill="#ff00ff"/>
<path d="M380.0,309.7L383.5,313.5L380.0,317.3L376.5,313.5Z" fill="#ff00ff"/>
<path d="M388.3,314.6L391.8,318.4L388.3,322.2L384.8,318.4Z" fill="#ff00ff"/>
<path d="M396.6,319.1L400.1,322.9L396.6,326.7L393.1,322.9Z" fill="#ff00ff"/>
<path d="M404.9,323.2L408.4,327.0L404.9,330.8L401.4,327.0Z" fill="#ff00ff"/>
<path d="M413.2,327.1L416.7,330.9L413.2,334.7L409.7,330.9Z" fill="#ff00ff"/>
<path d="M421.4,330.6L424.9,334.4L421.4,338.2L417.9,334.4Z" fill="#ff00ff"/>
<path d="M429.7,333.9L433.2,337.7L429.7,341.5L426.2,337.7Z" fill="#ff00ff"/>
<path d="M438.0,337.0L441.5,340.8L438.0,344.6L434.5,340.8Z" fill="#ff00ff"/>
<path d="M446.3,339.8L449.8,343.6L446.3,347.4L442.8,343.6Z" fill="#ff00ff"/>
<path d="M454.6,342.3L458.1,346.1L454.6,349.9L451.1,346.1Z" fill="#ff00ff"/>
<path d="M462.9,344.1L466.4,347.9L462.9,351.7L459.4,347.9Z" fill="#ff00ff"/>
<path d="M471.1,345.6L474.6,349.4L471.1,353.2L467.6,349.4Z" fill="#ff00ff"/>
<path d="M479.4,347.2L482.9,351.0L479.4,354.8L475.9,351.0Z" fill="#ff00ff"/>
<path d="M487.7,348.7L491.2,352.5L487.7,356.3L484.2,352.5Z" fill="#ff00ff"/>
<path d="M496.0,350.1L499.5,353.9L496.0,357.7L492.5,353.9Z" fill="#ff00ff"/>
<path d="M504.3,351.3L507.8,355.1L504.3,358.9L500.8,355.1Z" fill="#ff00ff"/>
<path d="M512.6,352.4L516.1,356.2L512.6,360.0L509.1,356.2Z" fill="#ff00ff"/>
<path d="M520.8,353.2L524.3,357.0L520.8,360.8L517.3,357.0Z" fill="#ff00ff"/>
<path d="M529.1,353.9L532.6,357.7L529.1,361.5L525.6,357.7Z" fill="#ff00ff"/>
<path d="M537.4,354.5L540.9,358.3L537.4,362.1L533.9,358.3Z" fill="#ff00ff"/>
<path d="M545.7,355.0L549.2,358.8L545.7,362.6L542.2,358.8Z" fill="#ff00ff"/>
<path d="M554.0,355.3L557.5,359.1L554.0,362.9L550.5,359.1Z" fill="#ff00ff"/>
<path d="M562.3,355.6L565.8,359.4L562.3,363.2L558.8,359.4Z" fill="#ff00ff"/>
<path d="M570.5,355.8L574.0,359.6L570.5,363.4L567.0,359.6Z" fill="#ff00ff"/>
<path d="M578.8,355.9L582.3,359.7L578.8,363.5L575.3,359.7Z" fill="#ff00ff"/>
<path d="M587.1,356.0L590.6,359.8L587.1,363.6L583.6,359.8Z" fill="#ff00ff"/>
<path d="M595.4,356.1L598.9,359.9L595.4,363.7L591.9,359.9Z" fill="#ff00ff"/>
<path d="M603.7,356.2L607.2,360.0L603.7,363.8L600.2,360.0Z" fill="#ff00ff"/>
<path d="M73.5,96.5L75.3,96.6L77.1,96.7L78.9,96.8L80.6,97.0L82.4,97.2L84.2,97.4L86.0,97.7L87.7,98.0L89.5,98.3L91.3,98.6L93.1,99.0L94.8,99.3L96.6,99.8L98.4,100.2L100.1,100.6L101.9,101.1L103.7,101.6L105.5,102.1L107.2,102.7L109.0,103.3L110.8,103.9L112.6,104.5L114.3,105.1L116.1,105.8L117.9,106.5L119.7,107.2L121.4,107.9L123.2,108.7L125.0,109.4L126.8,110.2L128.5,111.1L130.3,111.9L132.1,112.8L133.9,113.6L135.6,114.5L137.4,115.5L139.2,116.4L141.0,117.4L142.7,118.3L144.5,119.3L146.3,120.4L148.1,121.4L149.8,122.5L151.6,123.5L153.4,124.6L155.2,125.7L156.9,126.9L158.7,128.0L160.5,129.2L162.3,130.4L164.0,131.6L165.8,132.8L167.6,134.0L169.4,135.3L171.1,136.6L172.9,137.9L174.7,139.2L176.5,140.5L178.2,141.8L180.0,143.2L181.8,144.5L183.6,145.9L185.3,147.3L187.1,148.7L188.9,150.2L190.7,151.6L192.4,153.1L194.2,154.5L196.0,156.0L197.8,157.5L199.5,159.0L201.3,160.6L203.1,162.1L204.9,163.7L206.6,165.2L208.4,166.8L210.2,168.4L212.0,170.0L213.7,171.6L215.5,173.2L217.3,174.8L219.1,176.5L220.8,178.1L222.6,179.8L224.4,181.4L226.2,183.1L227.9,184.7L229.7,186.4L231.5,188.1L233.2,189.8L235.0,191.5L236.8,193.2L238.6,194.9L240.3,196.6L242.1,198.3L243.9,200.0L245.7,201.7L247.4,203.4L249.2,205.1L251.0,206.8L252.8,208.6L254.5,210.3L256.3,212.0L258.1,213.7L259.9,215.4L261.6,217.2L263.4,218.9L265.2,220.6L267.0,222.3L268.7,224.1L270.5,225.8L272.3,227.5L274.1,229.1L275.8,230.8L277.6,232.5L279.4,234.1L281.2,235.7L282.9,237.3L284.7,238.9L286.5,240.5L288.3,242.0L290.0,243.6L291.8,245.1L293.6,246.7L295.4,248.2L297.1,249.7L298.9,251.3L300.7,252.8L302.5,254.4L304.2,255.9L306.0,257.5L307.8,259.0L309.6,260.6L311.3,262.1L313.1,263.7L314.9,265.2L316.7,266.7L318.4,268.2L320.2,269.7L322.0,271.2L323.8,272.7L325.5,274.1L327.3,275.6L329.1,277.0L330.9,278.4L332.6,279.8L334.4,281.2L336.2,282.6L338.0,283.9L339.7,285.3L341.5,286.6L343.3,287.9L345.1,289.2L346.8,290.5L348.6,291.8L350.4,293.1L352.2,294.4L353.9,295.7L355.7,297.0L357.5,298.3L359.3,299.6L361.0,300.8L362.8,302.1L364.6,303.3L366.4,304.5L368.1,305.7L369.9,306.9L371.7,308.1L373.4,309.3L375.2,310.4L377.0,311.6L378.8,312.7L380.5,313.8L382.3,314.9L384.1,315.9L385.9,317.0L387.6,318.0L389.4,319.0L391.2,320.0L393.0,321.0L394.7,321.9L396.5,322.8L398.3,323.8L400.1,324.7L401.8,325.6L403.6,326.4L405.4,327.3L407.2,328.1L408.9,329.0L410.7,329.8L412.5,330.6L414.3,331.4L416.0,332.1L417.8,332.9L419.6,333.7L421.4,334.4L423.1,335.1L424.9,335.8L426.7,336.5L428.5,337.2L430.2,337.9L432.0,338.6L433.8,339.3L435.6,339.9L437.3,340.6L439.1,341.2L440.9,341.8L442.7,342.4L444.4,343.0L446.2,343.6L448.0,344.2L449.8,344.7L451.5,345.2L453.3,345.7L455.1,346.2L456.9,346.6L458.6,347.0L460.4,347.4L462.2,347.8L464.0,348.1L465.7,348.4L467.5,348.8L469.3,349.1L471.1,349.4L472.8,349.8L474.6,350.1L476.4,350.4L478.2,350.8L479.9,351.1L481.7,351.4L483.5,351.7L485.3,352.1L487.0,352.4L488.8,352.7L490.6,353.0L492.4,353.3L494.1,353.6L495.9,353.9L497.7,354.2L499.5,354.5L501.2,354.7L503.0,355.0L504.8,355.2L506.5,355.4L508.3,355.7L510.1,355.9L511.9,356.1L513.6,356.3L515.4,356.5L517.2,356.7L519.0,356.9L520.7,357.0L522.5,357.2L524.3,357.3L526.1,357.5L527.8,357.6L529.6,357.8L531.4,357.9L533.2,358.0L534.9,358.2L536.7,358.3L538.5,358.4L540.3,358.5L542.0,358.6L543.8,358.7L545.6,358.8L547.4,358.8L549.1,358.9L550.9,359.0L552.7,359.1L554.5,359.1L556.2,359.2L558.0,359.2L559.8,359.3L561.6,359.4L563.3,359.4L565.1,359.4L566.9,359.5L568.7,359.5L570.4,359.6L572.2,359.6L574.0,359.6L575.8,359.7L577.5,359.7L579.3,359.7L581.1,359.7L582.9,359.8L584.6,359.8L586.4,359.8L588.2,359.8L590.0,359.9L591.7,359.9L593.5,359.9L595.3,359.9L597.1,360.0L598.8,360.0L600.6,360.0L602.4,360.0L604.2,360.0" fill="none" stroke="#ff00ff" stroke-width="2.3" stroke-linejoin="round"/>
<path d="M73.5,317.0L76.9,320.6L73.5,324.2L70.1,320.6Z" fill="none" stroke="#ff00ff" stroke-width="1" stroke-opacity="0.60"/>
<path d="M81.8,311.5L85.2,315.1L81.8,318.7L78.4,315.1Z" fill="none" stroke="#ff00ff" stroke-width="1" stroke-opacity="0.60"/>
<path d="M90.1,303.0L93.5,306.6L90.1,310.2L86.7,306.6Z" fill="none" stroke="#ff00ff" stroke-width="1" stroke-opacity="0.60"/>
<path d="M98.4,296.1L101.8,299.7L98.4,303.3L95.0,299.7Z" fill="none" stroke="#ff00ff" stroke-width="1" stroke-opacity="0.60"/>
<path d="M106.7,289.8L110.1,293.4L106.7,297.0L103.3,293.4Z" fill="none" stroke="#ff00ff" stroke-width="1" stroke-opacity="0.60"/>
<path d="M114.9,283.9L118.3,287.5L114.9,291.1L111.5,287.5Z" fill="none" stroke="#ff00ff" stroke-width="1" stroke-opacity="0.60"/>
<path d="M123.2,278.6L126.6,282.2L123.2,285.8L119.8,282.2Z" fill="none" stroke="#ff00ff" stroke-width="1" stroke-opacity="0.60"/>
<path d="M131.5,274.2L134.9,277.8L131.5,281.4L128.1,277.8Z" fill="none" stroke="#ff00ff" stroke-width="1" stroke-opacity="0.60"/>
<path d="M139.8,270.3L143.2,273.9L139.8,277.5L136.4,273.9Z" fill="none" stroke="#ff00ff" stroke-width="1" stroke-opacity="0.60"/>
<path d="M148.1,266.9L151.5,270.5L148.1,274.1L144.7,270.5Z" fill="none" stroke="#ff00ff" stroke-width="1" stroke-opacity="0.60"/>
<path d="M156.4,263.8L159.8,267.4L156.4,271.0L153.0,267.4Z" fill="none" stroke="#ff00ff" stroke-width="1" stroke-opacity="0.60"/>
<path d="M164.6,260.9L168.0,264.5L164.6,268.1L161.2,264.5Z" fill="none" stroke="#ff00ff" stroke-width="1" stroke-opacity="0.60"/>
<path d="M172.9,258.4L176.3,262.0L172.9,265.6L169.5,262.0Z" fill="none" stroke="#ff00ff" stroke-width="1" stroke-opacity="0.60"/>
<path d="M181.2,256.2L184.6,259.8L181.2,263.4L177.8,259.8Z" fill="none" stroke="#ff00ff" stroke-width="1" stroke-opacity="0.60"/>
<path d="M189.5,254.2L192.9,257.8L189.5,261.4L186.1,257.8Z" fill="none" stroke="#ff00ff" stroke-width="1" stroke-opacity="0.60"/>
<path d="M197.8,252.5L201.2,256.1L197.8,259.7L194.4,256.1Z" fill="none" stroke="#ff00ff" stroke-width="1" stroke-opacity="0.60"/>
<path d="M206.1,251.0L209.5,254.6L206.1,258.2L202.7,254.6Z" fill="none" stroke="#ff00ff" stroke-width="1" stroke-opacity="0.60"/>
<path d="M214.4,249.8L217.8,253.4L214.4,257.0L211.0,253.4Z" fill="none" stroke="#ff00ff" stroke-width="1" stroke-opacity="0.60"/>
<path d="M222.6,248.9L226.0,252.5L222.6,256.1L219.2,252.5Z" fill="none" stroke="#ff00ff" stroke-width="1" stroke-opacity="0.60"/>
<path d="M230.9,248.1L234.3,251.7L230.9,255.3L227.5,251.7Z" fill="none" stroke="#ff00ff" stroke-width="1" stroke-opacity="0.60"/>
<path d="M239.2,247.6L242.6,251.2L239.2,254.8L235.8,251.2Z" fill="none" stroke="#ff00ff" stroke-width="1" stroke-opacity="0.60"/>
<path d="M247.5,247.3L250.9,250.9L247.5,254.5L244.1,250.9Z" fill="none" stroke="#ff00ff" stroke-width="1" stroke-opacity="0.60"/>
<path d="M255.8,247.1L259.2,250.7L255.8,254.3L252.4,250.7Z" fill="none" stroke="#ff00ff" stroke-width="1" stroke-opacity="0.60"/>
<path d="M264.1,247.2L267.5,250.8L264.1,254.4L260.7,250.8Z" fill="none" stroke="#ff00ff" stroke-width="1" stroke-opacity="0.60"/>
<path d="M272.3,247.4L275.7,251.0L272.3,254.6L268.9,251.0Z" fill="none" stroke="#ff00ff" stroke-width="1" stroke-opacity="0.60"/>
<path d="M280.6,247.8L284.0,251.4L280.6,255.0L277.2,251.4Z" fill="none" stroke="#ff00ff" stroke-width="1" stroke-opacity="0.60"/>
<path d="M288.9,248.4L292.3,252.0L288.9,255.6L285.5,252.0Z" fill="none" stroke="#ff00ff" stroke-width="1" stroke-opacity="0.60"/>
<path d="M297.2,249.2L300.6,252.8L297.2,256.4L293.8,252.8Z" fill="none" stroke="#ff00ff" stroke-width="1" stroke-opacity="0.60"/>
<path d="M305.5,250.1L308.9,253.7L305.5,257.3L302.1,253.7Z" fill="none" stroke="#ff00ff" stroke-width="1" stroke-opacity="0.60"/>
<path d="M313.8,251.2L317.2,254.8L313.8,258.4L310.4,254.8Z" fill="none" stroke="#ff00ff" stroke-width="1" stroke-opacity="0.60"/>
<path d="M322.0,252.5L325.4,256.1L322.0,259.7L318.6,256.1Z" fill="none" stroke="#ff00ff" stroke-width="1" stroke-opacity="0.60"/>
<path d="M330.3,254.0L333.7,257.6L330.3,261.2L326.9,257.6Z" fill="none" stroke="#ff00ff" stroke-width="1" stroke-opacity="0.60"/>
<path d="M338.6,255.6L342.0,259.2L338.6,262.8L335.2,259.2Z" fill="none" stroke="#ff00ff" stroke-width="1" stroke-opacity="0.60"/>
<path d="M346.9,257.3L350.3,260.9L346.9,264.5L343.5,260.9Z" fill="none" stroke="#ff00ff" stroke-width="1" stroke-opacity="0.60"/>
<path d="M355.2,259.3L358.6,262.9L355.2,266.5L351.8,262.9Z" fill="none" stroke="#ff00ff" stroke-width="1" stroke-opacity="0.60"/>
<path d="M363.5,261.4L366.9,265.0L363.5,268.6L360.1,265.0Z" fill="none" stroke="#ff00ff" stroke-width="1" stroke-opacity="0.60"/>
<path d="M371.7,263.7L375.1,267.3L371.7,270.9L368.3,267.3Z" fill="none" stroke="#ff00ff" stroke-width="1" stroke-opacity="0.60"/>
<path d="M380.0,266.3L383.4,269.9L380.0,273.5L376.6,269.9Z" fill="none" stroke="#ff00ff" stroke-width="1" stroke-opacity="0.60"/>
<path d="M388.3,269.2L391.7,272.8L388.3,276.4L384.9,272.8Z" fill="none" stroke="#ff00ff" stroke-width="1" stroke-opacity="0.60"/>
<path d="M396.6,272.3L400.0,275.9L396.6,279.5L393.2,275.9Z" fill="none" stroke="#ff00ff" stroke-width="1" stroke-opacity="0.60"/>
<path d="M404.9,275.7L408.3,279.3L404.9,282.9L401.5,279.3Z" fill="none" stroke="#ff00ff" stroke-width="1" stroke-opacity="0.60"/>
<path d="M413.2,279.4L416.6,283.0L413.2,286.6L409.8,283.0Z" fill="none" stroke="#ff00ff" stroke-width="1" stroke-opacity="0.60"/>
<path d="M421.4,283.4L424.8,287.0L421.4,290.6L418.0,287.0Z" fill="none" stroke="#ff00ff" stroke-width="1" stroke-opacity="0.60"/>
<path d="M429.7,287.4L433.1,291.0L429.7,294.6L426.3,291.0Z" fill="none" stroke="#ff00ff" stroke-width="1" stroke-opacity="0.60"/>
<path d="M438.0,291.5L441.4,295.1L438.0,298.7L434.6,295.1Z" fill="none" stroke="#ff00ff" stroke-width="1" stroke-opacity="0.60"/>
<path d="M446.3,295.4L449.7,299.0L446.3,302.6L442.9,299.0Z" fill="none" stroke="#ff00ff" stroke-width="1" stroke-opacity="0.60"/>
<path d="M454.6,299.1L458.0,302.7L454.6,306.3L451.2,302.7Z" fill="none" stroke="#ff00ff" stroke-width="1" stroke-opacity="0.60"/>
<path d="M462.9,302.8L466.3,306.4L462.9,310.0L459.5,306.4Z" fill="none" stroke="#ff00ff" stroke-width="1" stroke-opacity="0.60"/>
<path d="M471.1,307.0L474.5,310.6L471.1,314.2L467.7,310.6Z" fill="none" stroke="#ff00ff" stroke-width="1" stroke-opacity="0.60"/>
<path d="M479.4,312.1L482.8,315.7L479.4,319.3L476.0,315.7Z" fill="none" stroke="#ff00ff" stroke-width="1" stroke-opacity="0.60"/>
<path d="M487.7,317.9L491.1,321.5L487.7,325.1L484.3,321.5Z" fill="none" stroke="#ff00ff" stroke-width="1" stroke-opacity="0.60"/>
<path d="M496.0,324.0L499.4,327.6L496.0,331.2L492.6,327.6Z" fill="none" stroke="#ff00ff" stroke-width="1" stroke-opacity="0.60"/>
<path d="M504.3,330.1L507.7,333.7L504.3,337.3L500.9,333.7Z" fill="none" stroke="#ff00ff" stroke-width="1" stroke-opacity="0.60"/>
<path d="M512.6,336.0L516.0,339.6L512.6,343.2L509.2,339.6Z" fill="none" stroke="#ff00ff" stroke-width="1" stroke-opacity="0.60"/>
<path d="M520.8,341.7L524.2,345.3L520.8,348.9L517.4,345.3Z" fill="none" stroke="#ff00ff" stroke-width="1" stroke-opacity="0.60"/>
<path d="M529.1,347.3L532.5,350.9L529.1,354.5L525.7,350.9Z" fill="none" stroke="#ff00ff" stroke-width="1" stroke-opacity="0.60"/>
<path d="M537.4,352.7L540.8,356.3L537.4,359.9L534.0,356.3Z" fill="none" stroke="#ff00ff" stroke-width="1" stroke-opacity="0.60"/>
<path d="M545.7,358.0L549.1,361.6L545.7,365.2L542.3,361.6Z" fill="none" stroke="#ff00ff" stroke-width="1" stroke-opacity="0.60"/>
<path d="M554.0,363.1L557.4,366.7L554.0,370.3L550.6,366.7Z" fill="none" stroke="#ff00ff" stroke-width="1" stroke-opacity="0.60"/>
<path d="M562.3,368.0L565.7,371.6L562.3,375.2L558.9,371.6Z" fill="none" stroke="#ff00ff" stroke-width="1" stroke-opacity="0.60"/>
<path d="M570.5,372.4L573.9,376.0L570.5,379.6L567.1,376.0Z" fill="none" stroke="#ff00ff" stroke-width="1" stroke-opacity="0.60"/>
<path d="M578.8,376.4L582.2,380.0L578.8,383.6L575.4,380.0Z" fill="none" stroke="#ff00ff" stroke-width="1" stroke-opacity="0.60"/>
<path d="M587.1,379.8L590.5,383.4L587.1,387.0L583.7,383.4Z" fill="none" stroke="#ff00ff" stroke-width="1" stroke-opacity="0.60"/>
<path d="M595.4,382.6L598.8,386.2L595.4,389.8L592.0,386.2Z" fill="none" stroke="#ff00ff" stroke-width="1" stroke-opacity="0.60"/>
<path d="M603.7,384.7L607.1,388.3L603.7,391.9L600.3,388.3Z" fill="none" stroke="#ff00ff" stroke-width="1" stroke-opacity="0.60"/>
<path d="M73.53,321.44L81.81,314.56" fill="none" stroke="#ff00ff" stroke-width="2.3" stroke-dasharray="10.4,20"/>
<path d="M81.81,314.56L90.10,308.02" fill="none" stroke="#ff00ff" stroke-width="2.3" stroke-dasharray="10.4,20"/>
<path d="M90.10,308.02L98.38,301.81" fill="none" stroke="#ff00ff" stroke-width="2.3" stroke-dasharray="10.4,20"/>
<path d="M98.38,301.81L106.66,295.95" fill="none" stroke="#ff00ff" stroke-width="2.3" stroke-dasharray="10.4,20"/>
<path d="M106.66,295.95L114.95,290.46" fill="none" stroke="#ff00ff" stroke-width="2.3" stroke-dasharray="10.4,20"/>
<path d="M114.95,290.46L123.23,285.33" fill="none" stroke="#ff00ff" stroke-width="2.3" stroke-dasharray="10.4,20"/>
<path d="M123.23,285.33L131.51,280.57" fill="none" stroke="#ff00ff" stroke-width="2.3" stroke-dasharray="10.4,20"/>
<path d="M131.51,280.57L139.80,276.20" fill="none" stroke="#ff00ff" stroke-width="2.3" stroke-dasharray="10.4,20"/>
<path d="M139.80,276.20L148.08,272.23" fill="none" stroke="#ff00ff" stroke-width="2.3" stroke-dasharray="10.4,20"/>
<path d="M148.08,272.23L156.37,268.66" fill="none" stroke="#ff00ff" stroke-width="2.3" stroke-dasharray="10.4,20"/>
<path d="M156.37,268.66L164.65,265.50" fill="none" stroke="#ff00ff" stroke-width="2.3" stroke-dasharray="10.4,20"/>
<path d="M164.65,265.50L172.93,262.77" fill="none" stroke="#ff00ff" stroke-width="2.3" stroke-dasharray="10.4,20"/>
<path d="M172.93,262.77L181.22,260.45" fill="none" stroke="#ff00ff" stroke-width="2.3" stroke-dasharray="10.4,20"/>
<path d="M181.22,260.45L189.50,258.53" fill="none" stroke="#ff00ff" stroke-width="2.3" stroke-dasharray="10.4,20"/>
<path d="M189.50,258.53L197.78,256.95" fill="none" stroke="#ff00ff" stroke-width="2.3" stroke-dasharray="10.4,20"/>
<path d="M197.78,256.95L206.07,255.66" fill="none" stroke="#ff00ff" stroke-width="2.3" stroke-dasharray="10.4,20"/>
<path d="M206.07,255.66L214.35,254.63" fill="none" stroke="#ff00ff" stroke-width="2.3" stroke-dasharray="10.4,20"/>
<path d="M214.35,254.63L222.63,253.80" fill="none" stroke="#ff00ff" stroke-width="2.3" stroke-dasharray="10.4,20"/>
<path d="M222.63,253.80L230.92,253.12" fill="none" stroke="#ff00ff" stroke-width="2.3" stroke-dasharray="10.4,20"/>
<path d="M230.92,253.12L239.20,252.56" fill="none" stroke="#ff00ff" stroke-width="2.3" stroke-dasharray="10.4,20"/>
<path d="M239.20,252.56L247.48,252.07" fill="none" stroke="#ff00ff" stroke-width="2.3" stroke-dasharray="10.4,20"/>
<path d="M247.48,252.07L255.77,251.65" fill="none" stroke="#ff00ff" stroke-width="2.3" stroke-dasharray="10.4,20"/>
<path d="M255.77,251.65L264.05,251.36" fill="none" stroke="#ff00ff" stroke-width="2.3" stroke-dasharray="10.4,20"/>
<path d="M264.05,251.36L272.34,251.30" fill="none" stroke="#ff00ff" stroke-width="2.3" stroke-dasharray="10.4,20"/>
<path d="M272.34,251.30L280.62,251.54" fill="none" stroke="#ff00ff" stroke-width="2.3" stroke-dasharray="10.4,20"/>
<path d="M280.62,251.54L288.90,252.09" fill="none" stroke="#ff00ff" stroke-width="2.3" stroke-dasharray="10.4,20"/>
<path d="M288.90,252.09L297.19,252.89" fill="none" stroke="#ff00ff" stroke-width="2.3" stroke-dasharray="10.4,20"/>
<path d="M297.19,252.89L305.47,253.86" fill="none" stroke="#ff00ff" stroke-width="2.3" stroke-dasharray="10.4,20"/>
<path d="M305.47,253.86L313.75,254.92" fill="none" stroke="#ff00ff" stroke-width="2.3" stroke-dasharray="10.4,20"/>
<path d="M313.75,254.92L322.04,256.05" fill="none" stroke="#ff00ff" stroke-width="2.3" stroke-dasharray="10.4,20"/>
<path d="M322.04,256.05L330.32,257.30" fill="none" stroke="#ff00ff" stroke-width="2.3" stroke-dasharray="10.4,20"/>
<path d="M330.32,257.30L338.60,258.71" fill="none" stroke="#ff00ff" stroke-width="2.3" stroke-dasharray="10.4,20"/>
<path d="M338.60,258.71L346.89,260.34" fill="none" stroke="#ff00ff" stroke-width="2.3" stroke-dasharray="10.4,20"/>
<path d="M346.89,260.34L355.17,262.22" fill="none" stroke="#ff00ff" stroke-width="2.3" stroke-dasharray="10.4,20"/>
<path d="M355.17,262.22L363.45,264.42" fill="none" stroke="#ff00ff" stroke-width="2.3" stroke-dasharray="10.4,20"/>
<path d="M363.45,264.42L371.74,266.96" fill="none" stroke="#ff00ff" stroke-width="2.3" stroke-dasharray="10.4,20"/>
<path d="M371.74,266.96L380.02,269.90" fill="none" stroke="#ff00ff" stroke-width="2.3" stroke-dasharray="10.4,20"/>
<path d="M380.02,269.90L388.31,273.13" fill="none" stroke="#ff00ff" stroke-width="2.3" stroke-dasharray="10.4,20"/>
<path d="M388.31,273.13L396.59,276.48" fill="none" stroke="#ff00ff" stroke-width="2.3" stroke-dasharray="10.4,20"/>
<path d="M396.59,276.48L404.87,279.76" fill="none" stroke="#ff00ff" stroke-width="2.3" stroke-dasharray="10.4,20"/>
<path d="M404.87,279.76L413.16,282.86" fill="none" stroke="#ff00ff" stroke-width="2.3" stroke-dasharray="10.4,20"/>
<path d="M413.16,282.86L421.44,285.91" fill="none" stroke="#ff00ff" stroke-width="2.3" stroke-dasharray="10.4,20"/>
<path d="M421.44,285.91L429.72,289.11" fill="none" stroke="#ff00ff" stroke-width="2.3" stroke-dasharray="10.4,20"/>
<path d="M429.72,289.11L438.01,292.66" fill="none" stroke="#ff00ff" stroke-width="2.3" stroke-dasharray="10.4,20"/>
<path d="M438.01,292.66L446.29,296.75" fill="none" stroke="#ff00ff" stroke-width="2.3" stroke-dasharray="10.4,20"/>
<path d="M446.29,296.75L454.57,301.38" fill="none" stroke="#ff00ff" stroke-width="2.3" stroke-dasharray="10.4,20"/>
<path d="M454.57,301.38L462.86,306.45" fill="none" stroke="#ff00ff" stroke-width="2.3" stroke-dasharray="10.4,20"/>
<path d="M462.86,306.45L471.14,311.88" fill="none" stroke="#ff00ff" stroke-width="2.3" stroke-dasharray="10.4,20"/>
<path d="M471.14,311.88L479.43,317.59" fill="none" stroke="#ff00ff" stroke-width="2.3" stroke-dasharray="10.4,20"/>
<path d="M479.43,317.59L487.71,323.58" fill="none" stroke="#ff00ff" stroke-width="2.3" stroke-dasharray="10.4,20"/>
<path d="M487.71,323.58L495.99,329.85" fill="none" stroke="#ff00ff" stroke-width="2.3" stroke-dasharray="10.4,20"/>
<path d="M495.99,329.85L504.28,336.43" fill="none" stroke="#ff00ff" stroke-width="2.3" stroke-dasharray="10.4,20"/>
<path d="M504.28,336.43L512.56,343.28" fill="none" stroke="#ff00ff" stroke-width="2.3" stroke-dasharray="10.4,20"/>
<path d="M512.56,343.28L520.84,350.38" fill="none" stroke="#ff00ff" stroke-width="2.3" stroke-dasharray="10.4,20"/>
<path d="M520.84,350.38L529.13,357.67" fill="none" stroke="#ff00ff" stroke-width="2.3" stroke-dasharray="10.4,20"/>
<path d="M529.13,357.67L537.41,365.10" fill="none" stroke="#ff00ff" stroke-width="2.3" stroke-dasharray="10.4,20"/>
<path d="M537.41,365.10L545.69,372.61" fill="none" stroke="#ff00ff" stroke-width="2.3" stroke-dasharray="10.4,20"/>
<path d="M545.69,372.61L553.98,380.16" fill="none" stroke="#ff00ff" stroke-width="2.3" stroke-dasharray="10.4,20"/>
<path d="M553.98,380.16L562.26,387.69" fill="none" stroke="#ff00ff" stroke-width="2.3" stroke-dasharray="10.4,20"/>
<path d="M562.26,387.69L570.54,395.14" fill="none" stroke="#ff00ff" stroke-width="2.3" stroke-dasharray="10.4,20"/>
<path d="M570.54,395.14L578.83,402.48" fill="none" stroke="#ff00ff" stroke-width="2.3" stroke-dasharray="10.4,20"/>
<path d="M578.83,402.48L587.11,409.65" fill="none" stroke="#ff00ff" stroke-width="2.3" stroke-dasharray="10.4,20"/>
<path d="M587.11,409.65L595.40,416.59" fill="none" stroke="#ff00ff" stroke-width="2.3" stroke-dasharray="10.4,20"/>
<path d="M595.40,416.59L603.68,423.25" fill="none" stroke="#ff00ff" stroke-width="2.3" stroke-dasharray="10.4,20"/></g>
<g id="markers"></g>
<g id="axes"><rect x="65.2" y="13.4" width="571.7" height="429.4" fill="none" stroke="#111" stroke-width="2"/>
<line x1="106.0" y1="442.8" x2="106.0" y2="438.8" stroke="#111" stroke-width="2"/>
<line x1="146.9" y1="442.8" x2="146.9" y2="434.8" stroke="#111" stroke-width="2"/>
<line x1="187.7" y1="442.8" x2="187.7" y2="438.8" stroke="#111" stroke-width="2"/>
<line x1="228.5" y1="442.8" x2="228.5" y2="434.8" stroke="#111" stroke-width="2"/>
<line x1="269.3" y1="442.8" x2="269.3" y2="438.8" stroke="#111" stroke-width="2"/>
<line x1="310.2" y1="442.8" x2="310.2" y2="434.8" stroke="#111" stroke-width="2"/>
<line x1="351.0" y1="442.8" x2="351.0" y2="438.8" stroke="#111" stroke-width="2"/>
<line x1="391.8" y1="442.8" x2="391.8" y2="434.8" stroke="#111" stroke-width="2"/>
<line x1="432.7" y1="442.8" x2="432.7" y2="438.8" stroke="#111" stroke-width="2"/>
<line x1="473.5" y1="442.8" x2="473.5" y2="434.8" stroke="#111" stroke-width="2"/>
<line x1="514.3" y1="442.8" x2="514.3" y2="438.8" stroke="#111" stroke-width="2"/>
<line x1="555.2" y1="442.8" x2="555.2" y2="434.8" stroke="#111" stroke-width="2"/>
<line x1="596.0" y1="442.8" x2="596.0" y2="438.8" stroke="#111" stroke-width="2"/>
<line x1="65.2" y1="416.1" x2="69.2" y2="416.1" stroke="#111" stroke-width="2"/>
<line x1="636.9" y1="416.1" x2="632.9" y2="416.1" stroke="#111" stroke-width="2"/>
<line x1="65.2" y1="389.3" x2="73.2" y2="389.3" stroke="#111" stroke-width="2"/>
<line x1="636.9" y1="389.3" x2="628.9" y2="389.3" stroke="#111" stroke-width="2"/>
<line x1="65.2" y1="362.4" x2="69.2" y2="362.4" stroke="#111" stroke-width="2"/>
<line x1="636.9" y1="362.4" x2="632.9" y2="362.4" stroke="#111" stroke-width="2"/>
<line x1="65.2" y1="335.6" x2="73.2" y2="335.6" stroke="#111" stroke-width="2"/>
<line x1="636.9" y1="335.6" x2="628.9" y2="335.6" stroke="#111" stroke-width="2"/>
<line x1="65.2" y1="308.8" x2="69.2" y2="308.8" stroke="#111" stroke-width="2"/>
<line x1="636.9" y1="308.8" x2="632.9" y2="308.8" stroke="#111" stroke-width="2"/>
<line x1="65.2" y1="281.9" x2="73.2" y2="281.9" stroke="#111" stroke-width="2"/>
<line x1="636.9" y1="281.9" x2="628.9" y2="281.9" stroke="#111" stroke-width="2"/>
<line x1="65.2" y1="255.0" x2="69.2" y2="255.0" stroke="#111" stroke-width="2"/>
<line x1="636.9" y1="255.0" x2="632.9" y2="255.0" stroke="#111" stroke-width="2"/>
<line x1="65.2" y1="228.2" x2="73.2" y2="228.2" stroke="#111" stroke-width="2"/>
<line x1="636.9" y1="228.2" x2="628.9" y2="228.2" stroke="#111" stroke-width="2"/>
<line x1="65.2" y1="201.3" x2="69.2" y2="201.3" stroke="#111" stroke-width="2"/>
<line x1="636.9" y1="201.3" x2="632.9" y2="201.3" stroke="#111" stroke-width="2"/>
<line x1="65.2" y1="174.5" x2="73.2" y2="174.5" stroke="#111" stroke-width="2"/>
<line x1="636.9" y1="174.5" x2="628.9" y2="174.5" stroke="#111" stroke-width="2"/>
<line x1="65.2" y1="147.6" x2="69.2" y2="147.6" stroke="#111" stroke-width="2"/>
<line x1="636.9" y1="147.6" x2="632.9" y2="147.6" stroke="#111" stroke-width="2"/>
<line x1="65.2" y1="120.8" x2="73.2" y2="120.8" stroke="#111" stroke-width="2"/>
<line x1="636.9" y1="120.8" x2="628.9" y2="120.8" stroke="#111" stroke-width="2"/>
<line x1="65.2" y1="93.9" x2="69.2" y2="93.9" stroke="#111" stroke-width="2"/>
<line x1="636.9" y1="93.9" x2="632.9" y2="93.9" stroke="#111" stroke-width="2"/>
<line x1="65.2" y1="67.1" x2="73.2" y2="67.1" stroke="#111" stroke-width="2"/>
<line x1="636.9" y1="67.1" x2="628.9" y2="67.1" stroke="#111" stroke-width="2"/>
<line x1="65.2" y1="40.2" x2="69.2" y2="40.2" stroke="#111" stroke-width="2"/>
<line x1="636.9" y1="40.2" x2="632.9" y2="40.2" stroke="#111" stroke-width="2"/></g>
<g id="tx"><g id="text"><text transform="translate(56.00,449.00) scale(1.040,1)" text-anchor="end" font-size="18" xml:space="preserve">0.0</text>
<text transform="translate(646.20,449.00) scale(1.040,1)" text-anchor="start" font-size="18" xml:space="preserve">0.0</text>
<text transform="translate(56.00,395.30) scale(1.040,1)" text-anchor="end" font-size="18" xml:space="preserve">0.5</text>
<text transform="translate(646.20,395.30) scale(1.040,1)" text-anchor="start" font-size="18" xml:space="preserve">0.5</text>
<text transform="translate(56.00,341.60) scale(1.040,1)" text-anchor="end" font-size="18" xml:space="preserve">1.0</text>
<text transform="translate(646.20,341.60) scale(1.040,1)" text-anchor="start" font-size="18" xml:space="preserve">1.0</text>
<text transform="translate(56.00,287.90) scale(1.040,1)" text-anchor="end" font-size="18" xml:space="preserve">1.5</text>
<text transform="translate(646.20,287.90) scale(1.040,1)" text-anchor="start" font-size="18" xml:space="preserve">1.5</text>
<text transform="translate(56.00,234.20) scale(1.040,1)" text-anchor="end" font-size="18" xml:space="preserve">2.0</text>
<text transform="translate(646.20,234.20) scale(1.040,1)" text-anchor="start" font-size="18" xml:space="preserve">2.0</text>
<text transform="translate(56.00,180.50) scale(1.040,1)" text-anchor="end" font-size="18" xml:space="preserve">2.5</text>
<text transform="translate(646.20,180.50) scale(1.040,1)" text-anchor="start" font-size="18" xml:space="preserve">2.5</text>
<text transform="translate(56.00,126.80) scale(1.040,1)" text-anchor="end" font-size="18" xml:space="preserve">3.0</text>
<text transform="translate(646.20,126.80) scale(1.040,1)" text-anchor="start" font-size="18" xml:space="preserve">3.0</text>
<text transform="translate(56.00,73.10) scale(1.040,1)" text-anchor="end" font-size="18" xml:space="preserve">3.5</text>
<text transform="translate(646.20,73.10) scale(1.040,1)" text-anchor="start" font-size="18" xml:space="preserve">3.5</text>
<text transform="translate(56.00,19.40) scale(1.040,1)" text-anchor="end" font-size="18" xml:space="preserve">4.0</text>
<text transform="translate(646.20,19.40) scale(1.040,1)" text-anchor="start" font-size="18" xml:space="preserve">4.0</text>
<text transform="translate(65.20,466.80) scale(1.040,1)" text-anchor="middle" font-size="18" xml:space="preserve">-2</text>
<text transform="translate(146.86,466.80) scale(1.040,1)" text-anchor="middle" font-size="18" xml:space="preserve">-1</text>
<text transform="translate(228.52,466.80) scale(1.040,1)" text-anchor="middle" font-size="18" xml:space="preserve">0</text>
<text transform="translate(310.18,466.80) scale(1.040,1)" text-anchor="middle" font-size="18" xml:space="preserve">1</text>
<text transform="translate(391.84,466.80) scale(1.040,1)" text-anchor="middle" font-size="18" xml:space="preserve">2</text>
<text transform="translate(473.50,466.80) scale(1.040,1)" text-anchor="middle" font-size="18" xml:space="preserve">3</text>
<text transform="translate(555.16,466.80) scale(1.040,1)" text-anchor="middle" font-size="18" xml:space="preserve">4</text>
<text transform="translate(636.82,466.80) scale(1.040,1)" text-anchor="middle" font-size="18" xml:space="preserve">5</text>
<text transform="translate(351.05,501.70) scale(1.040,1)" text-anchor="middle" font-size="22" xml:space="preserve">log f (Hz)</text>
<text transform="translate(20.00,228.00) rotate(-90) scale(1.040,1)" text-anchor="middle" font-size="22" xml:space="preserve">log Z (Ω)</text>
<text transform="translate(697.00,228.00) rotate(-90) scale(1.040,1)" text-anchor="middle" font-size="22" xml:space="preserve">log -Phase(°)</text></g>
<g id="legend"><rect x="437.4" y="26.2" width="4.6" height="4.6" fill="#000"/>
<line x1="470.9" y1="28.5" x2="522.9" y2="28.5" stroke="#000" stroke-width="2.2" />
<text transform="translate(528.50,36.60) scale(1.040,1)" text-anchor="start" font-size="22" xml:space="preserve">Substrate</text>
<rect x="437.2" y="54.0" width="4.9" height="4.9" fill="none" stroke="#333" stroke-width="1" stroke-opacity="0.90"/>
<line x1="470.9" y1="56.4" x2="522.9" y2="56.4" stroke="#000" stroke-width="2.2" stroke-dasharray="10.3,10.2"/>
<text transform="translate(528.50,64.54) scale(1.040,1)" text-anchor="start" font-size="22" xml:space="preserve">Substrate</text>
<circle cx="439.7" cy="84.4" r="2.5" fill="#ff0000"/>
<line x1="470.9" y1="84.4" x2="522.9" y2="84.4" stroke="#ff0000" stroke-width="2.2" />
<text transform="translate(528.50,92.48) scale(1.040,1)" text-anchor="start" font-size="22" xml:space="preserve">Sample 1</text>
<circle cx="439.7" cy="112.3" r="2.6" fill="none" stroke="#ff0000" stroke-width="1" stroke-opacity="0.90"/>
<line x1="470.9" y1="112.3" x2="522.9" y2="112.3" stroke="#ff0000" stroke-width="2.2" stroke-dasharray="10.3,10.2"/>
<text transform="translate(528.50,120.42) scale(1.040,1)" text-anchor="start" font-size="22" xml:space="preserve">Sample 1</text>
<path d="M439.7,137.5L442.7,143.1L436.7,143.1Z" fill="#0000ff"/>
<line x1="470.9" y1="140.3" x2="522.9" y2="140.3" stroke="#0000ff" stroke-width="2.2" />
<text transform="translate(528.50,148.36) scale(1.040,1)" text-anchor="start" font-size="22" xml:space="preserve">Sample 2</text>
<path d="M439.7,165.7L442.6,170.7L436.8,170.7Z" fill="none" stroke="#0000ff" stroke-width="1" stroke-opacity="0.90"/>
<line x1="470.9" y1="168.2" x2="522.9" y2="168.2" stroke="#0000ff" stroke-width="2.2" stroke-dasharray="10.3,10.2"/>
<text transform="translate(528.50,176.30) scale(1.040,1)" text-anchor="start" font-size="22" xml:space="preserve">Sample 2</text>
<path d="M439.7,192.9L442.7,196.1L439.7,199.4L436.7,196.1Z" fill="#ff00ff"/>
<line x1="470.9" y1="196.1" x2="522.9" y2="196.1" stroke="#ff00ff" stroke-width="2.2" />
<text transform="translate(528.50,204.24) scale(1.040,1)" text-anchor="start" font-size="22" xml:space="preserve">Sample 3</text>
<path d="M439.7,221.0L442.6,224.1L439.7,227.1L436.8,224.1Z" fill="none" stroke="#ff00ff" stroke-width="1" stroke-opacity="0.90"/>
<line x1="470.9" y1="224.1" x2="522.9" y2="224.1" stroke="#ff00ff" stroke-width="2.2" stroke-dasharray="10.3,10.2"/>
<text transform="translate(528.50,232.18) scale(1.040,1)" text-anchor="start" font-size="22" xml:space="preserve">Sample 3</text>
<text transform="translate(438.10,260.80) scale(1.040,1)" text-anchor="start" font-size="22" xml:space="preserve">dot  - experimental</text>
<text transform="translate(438.00,287.60) scale(1.040,1)" text-anchor="start" font-size="22" xml:space="preserve">line - simulation</text></g></g>
</svg>
</body></html>
